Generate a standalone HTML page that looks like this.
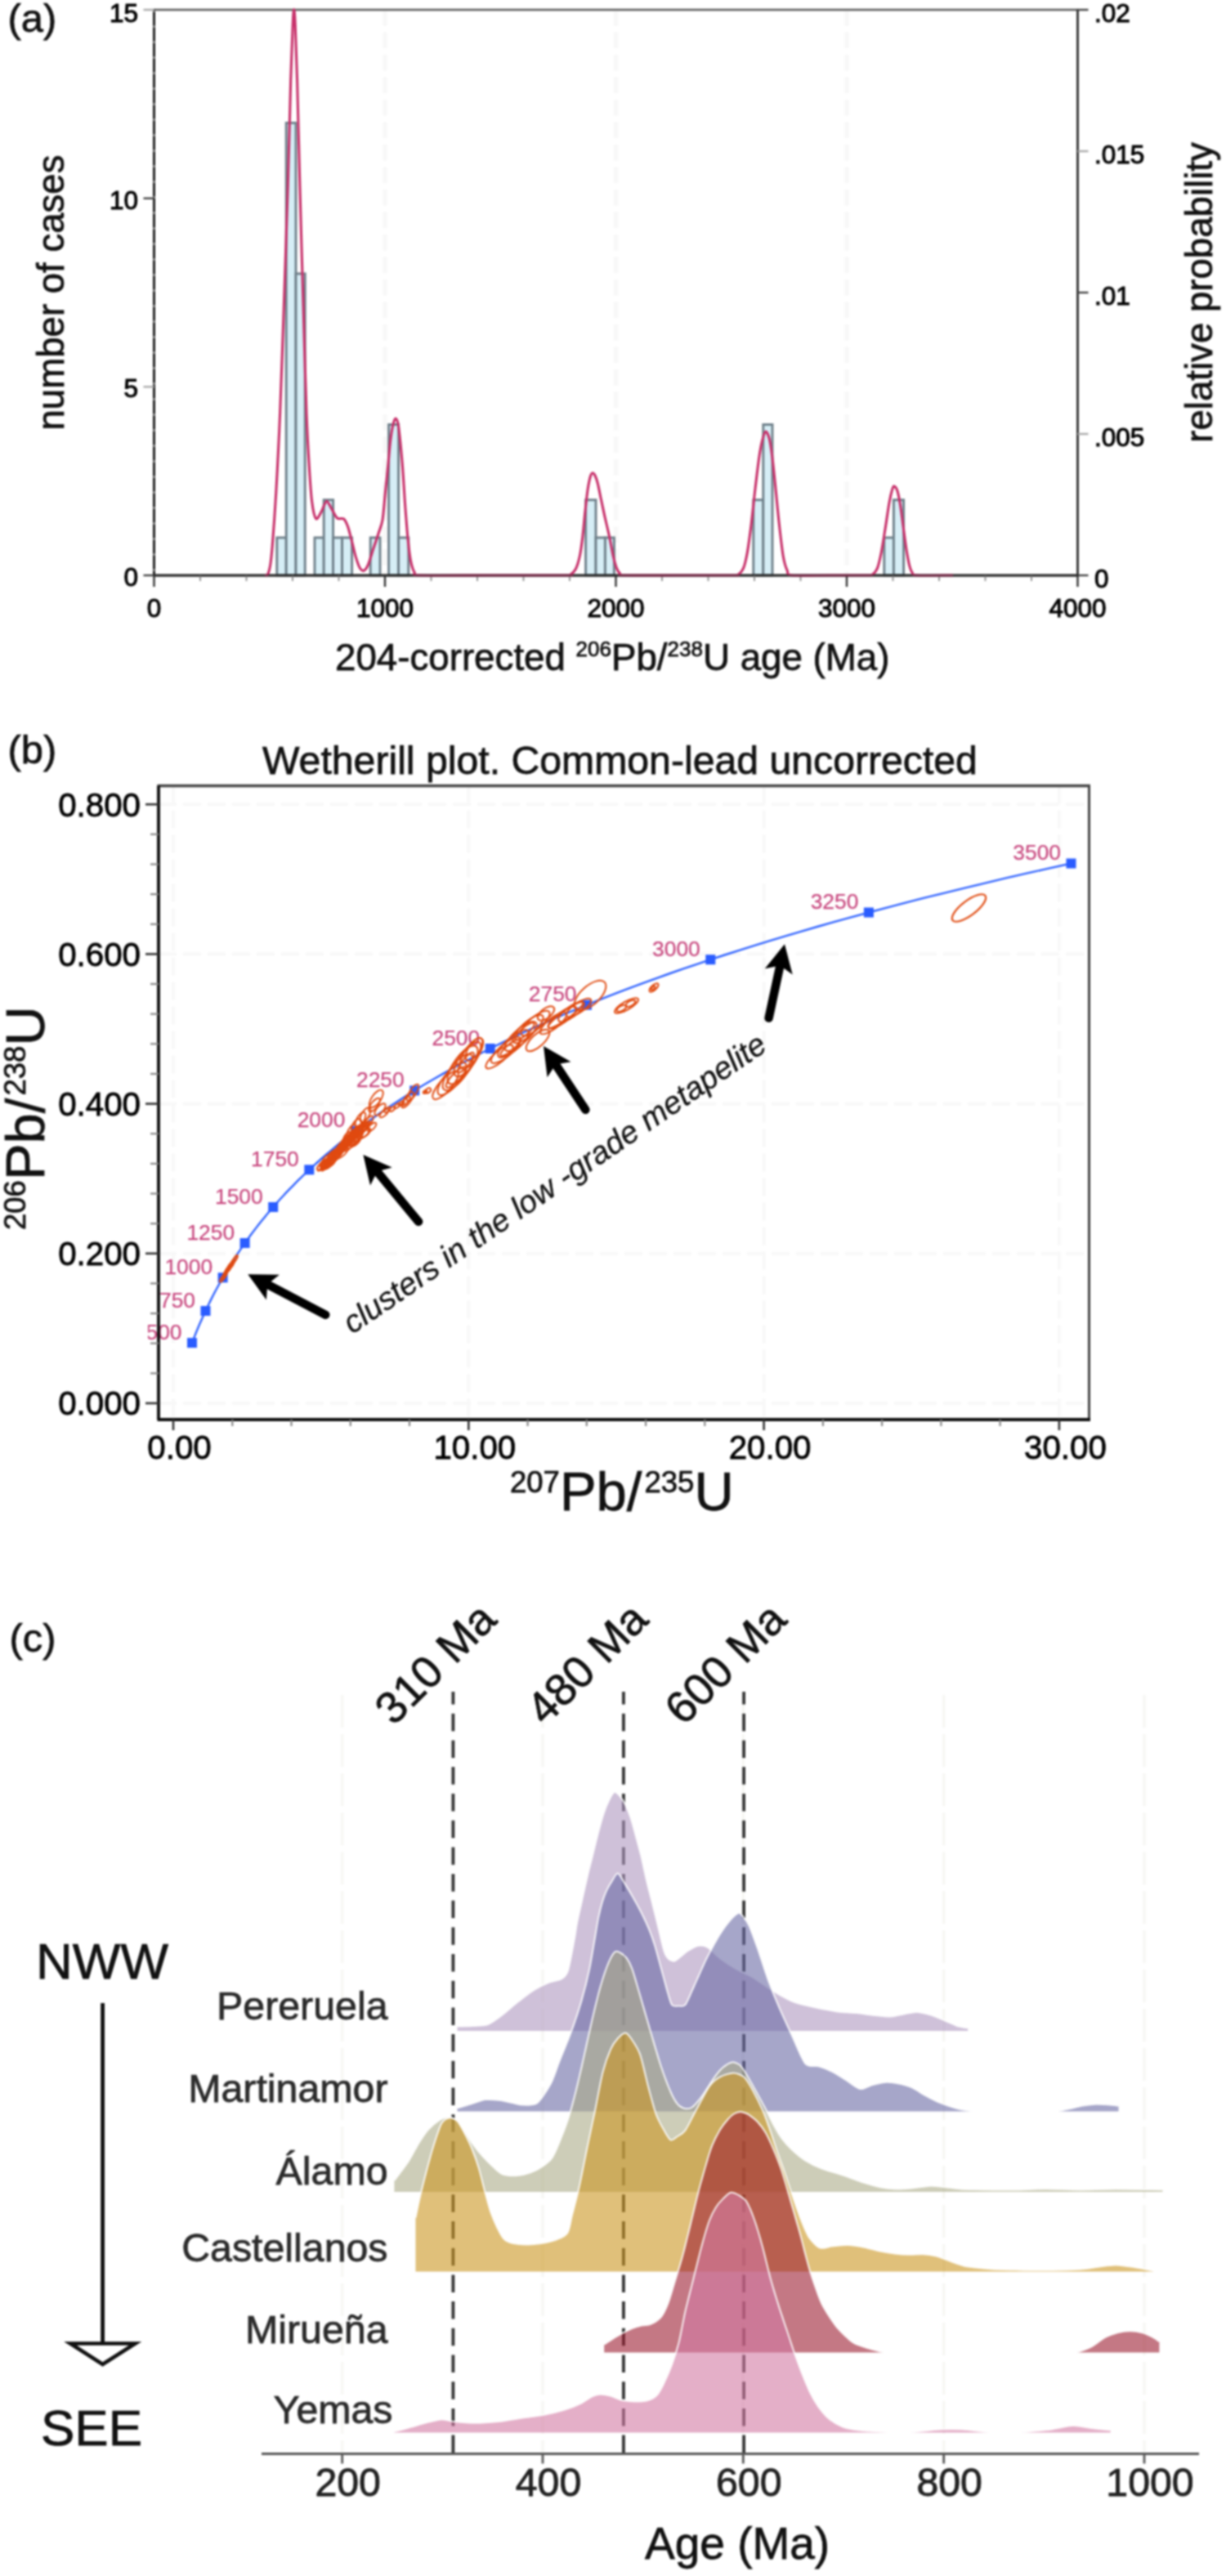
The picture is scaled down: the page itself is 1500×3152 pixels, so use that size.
<!DOCTYPE html>
<html><head><meta charset="utf-8"><title>Figure</title>
<style>
html,body{margin:0;padding:0;background:#fff;}
body{width:1500px;height:3152px;overflow:hidden;font-family:"Liberation Sans", sans-serif;}
svg{display:block;filter:blur(0.9px);}
text{font-family:"Liberation Sans", sans-serif;stroke:#111;stroke-width:0.75px;}
text.tk{stroke:#000;stroke-width:1.05px;}
text.tk2{stroke:#000;stroke-width:0.8px;}
text.pk{stroke:#c8487f;stroke-width:0.25px;}
text.gy{stroke:#2a2a2a;}
</style></head><body>
<svg width="1500" height="3152" viewBox="0 0 1500 3152">
<rect width="1500" height="3152" fill="#fff"/>
<g id="panelA">
<text x="9.5" y="38.5" font-size="48.8" fill="#111">(a)</text>
<line x1="471.0" y1="12.0" x2="471.0" y2="704.0" stroke="#f8f8f8" stroke-width="5.5" stroke-dasharray="19.5 8"/>
<line x1="753.5" y1="12.0" x2="753.5" y2="704.0" stroke="#f8f8f8" stroke-width="5.5" stroke-dasharray="19.5 8"/>
<line x1="1036.0" y1="12.0" x2="1036.0" y2="704.0" stroke="#f8f8f8" stroke-width="5.5" stroke-dasharray="19.5 8"/>
<rect x="338.8" y="657.9" width="11.4" height="46.1" fill="#d6eef6" stroke="#6f808a" stroke-width="2.9"/>
<rect x="350.2" y="150.4" width="11.8" height="553.6" fill="#d6eef6" stroke="#6f808a" stroke-width="2.9"/>
<rect x="362.0" y="334.9" width="11.2" height="369.1" fill="#d6eef6" stroke="#6f808a" stroke-width="2.9"/>
<rect x="385.0" y="657.9" width="11.2" height="46.1" fill="#d6eef6" stroke="#6f808a" stroke-width="2.9"/>
<rect x="396.2" y="611.7" width="11.4" height="92.3" fill="#d6eef6" stroke="#6f808a" stroke-width="2.9"/>
<rect x="407.6" y="657.9" width="11.0" height="46.1" fill="#d6eef6" stroke="#6f808a" stroke-width="2.9"/>
<rect x="418.6" y="657.9" width="12.0" height="46.1" fill="#d6eef6" stroke="#6f808a" stroke-width="2.9"/>
<rect x="453.2" y="657.9" width="11.8" height="46.1" fill="#d6eef6" stroke="#6f808a" stroke-width="2.9"/>
<rect x="475.6" y="519.5" width="12.0" height="184.5" fill="#d6eef6" stroke="#6f808a" stroke-width="2.9"/>
<rect x="487.6" y="657.9" width="12.2" height="46.1" fill="#d6eef6" stroke="#6f808a" stroke-width="2.9"/>
<rect x="716.6" y="611.7" width="12.4" height="92.3" fill="#d6eef6" stroke="#6f808a" stroke-width="2.9"/>
<rect x="729.0" y="657.9" width="11.4" height="46.1" fill="#d6eef6" stroke="#6f808a" stroke-width="2.9"/>
<rect x="740.4" y="657.9" width="11.0" height="46.1" fill="#d6eef6" stroke="#6f808a" stroke-width="2.9"/>
<rect x="921.8" y="611.7" width="12.0" height="92.3" fill="#d6eef6" stroke="#6f808a" stroke-width="2.9"/>
<rect x="933.8" y="519.5" width="11.2" height="184.5" fill="#d6eef6" stroke="#6f808a" stroke-width="2.9"/>
<rect x="1081.8" y="657.9" width="11.6" height="46.1" fill="#d6eef6" stroke="#6f808a" stroke-width="2.9"/>
<rect x="1093.4" y="611.7" width="12.2" height="92.3" fill="#d6eef6" stroke="#6f808a" stroke-width="2.9"/>
<line x1="187.5" y1="12.0" x2="1319.5" y2="12.0" stroke="#5a5a5a" stroke-width="2.6"/>
<line x1="188.5" y1="11.0" x2="188.5" y2="705.0" stroke="#222" stroke-width="3"/>
<line x1="188.5" y1="12.0" x2="188.5" y2="704.0" stroke="#fff" stroke-opacity="0.35" stroke-width="3" stroke-dasharray="3 16"/>
<line x1="1318.5" y1="11.0" x2="1318.5" y2="705.0" stroke="#3c3c3c" stroke-width="3"/>
<line x1="187.5" y1="704.0" x2="1319.5" y2="704.0" stroke="#2a2a2a" stroke-width="3"/>
<line x1="175.5" y1="12.0" x2="188.5" y2="12.0" stroke="#aaa" stroke-width="2.4"/>
<text x="169" y="26.8" font-size="31.5" text-anchor="end" fill="#000" class="tk">15</text>
<line x1="175.5" y1="242.7" x2="188.5" y2="242.7" stroke="#444" stroke-width="2.4"/>
<text x="169" y="255.5" font-size="31.5" text-anchor="end" fill="#000" class="tk">10</text>
<line x1="175.5" y1="473.3" x2="188.5" y2="473.3" stroke="#aaa" stroke-width="2.4"/>
<text x="169" y="486.1" font-size="31.5" text-anchor="end" fill="#000" class="tk">5</text>
<line x1="175.5" y1="704.0" x2="188.5" y2="704.0" stroke="#444" stroke-width="2.4"/>
<text x="169" y="716.8" font-size="31.5" text-anchor="end" fill="#000" class="tk">0</text>
<line x1="1318.5" y1="12.0" x2="1331.5" y2="12.0" stroke="#444" stroke-width="2.4"/>
<text x="1339" y="27.3" font-size="31.5" fill="#000" class="tk">.02</text>
<line x1="1318.5" y1="185.0" x2="1331.5" y2="185.0" stroke="#aaa" stroke-width="2.4"/>
<text x="1339" y="200.3" font-size="31.5" fill="#000" class="tk">.015</text>
<line x1="1318.5" y1="358.0" x2="1331.5" y2="358.0" stroke="#444" stroke-width="2.4"/>
<text x="1339" y="373.3" font-size="31.5" fill="#000" class="tk">.01</text>
<line x1="1318.5" y1="531.0" x2="1331.5" y2="531.0" stroke="#aaa" stroke-width="2.4"/>
<text x="1339" y="546.3" font-size="31.5" fill="#000" class="tk">.005</text>
<line x1="1318.5" y1="704.0" x2="1331.5" y2="704.0" stroke="#444" stroke-width="2.4"/>
<text x="1339" y="719.3" font-size="31.5" fill="#000" class="tk">0</text>
<line x1="188.5" y1="704.0" x2="188.5" y2="718.0" stroke="#333" stroke-width="2.4"/>
<text x="188.5" y="755" font-size="31.5" text-anchor="middle" fill="#000" class="tk">0</text>
<line x1="245.0" y1="704.0" x2="245.0" y2="711.0" stroke="#999" stroke-width="2"/>
<line x1="301.5" y1="704.0" x2="301.5" y2="711.0" stroke="#999" stroke-width="2"/>
<line x1="358.0" y1="704.0" x2="358.0" y2="711.0" stroke="#999" stroke-width="2"/>
<line x1="414.5" y1="704.0" x2="414.5" y2="711.0" stroke="#999" stroke-width="2"/>
<line x1="471.0" y1="704.0" x2="471.0" y2="718.0" stroke="#333" stroke-width="2.4"/>
<text x="471.0" y="755" font-size="31.5" text-anchor="middle" fill="#000" class="tk">1000</text>
<line x1="527.5" y1="704.0" x2="527.5" y2="711.0" stroke="#999" stroke-width="2"/>
<line x1="584.0" y1="704.0" x2="584.0" y2="711.0" stroke="#999" stroke-width="2"/>
<line x1="640.5" y1="704.0" x2="640.5" y2="711.0" stroke="#999" stroke-width="2"/>
<line x1="697.0" y1="704.0" x2="697.0" y2="711.0" stroke="#999" stroke-width="2"/>
<line x1="753.5" y1="704.0" x2="753.5" y2="718.0" stroke="#333" stroke-width="2.4"/>
<text x="753.5" y="755" font-size="31.5" text-anchor="middle" fill="#000" class="tk">2000</text>
<line x1="810.0" y1="704.0" x2="810.0" y2="711.0" stroke="#999" stroke-width="2"/>
<line x1="866.5" y1="704.0" x2="866.5" y2="711.0" stroke="#999" stroke-width="2"/>
<line x1="923.0" y1="704.0" x2="923.0" y2="711.0" stroke="#999" stroke-width="2"/>
<line x1="979.5" y1="704.0" x2="979.5" y2="711.0" stroke="#999" stroke-width="2"/>
<line x1="1036.0" y1="704.0" x2="1036.0" y2="718.0" stroke="#333" stroke-width="2.4"/>
<text x="1036.0" y="755" font-size="31.5" text-anchor="middle" fill="#000" class="tk">3000</text>
<line x1="1092.5" y1="704.0" x2="1092.5" y2="711.0" stroke="#999" stroke-width="2"/>
<line x1="1149.0" y1="704.0" x2="1149.0" y2="711.0" stroke="#999" stroke-width="2"/>
<line x1="1205.5" y1="704.0" x2="1205.5" y2="711.0" stroke="#999" stroke-width="2"/>
<line x1="1262.0" y1="704.0" x2="1262.0" y2="711.0" stroke="#999" stroke-width="2"/>
<line x1="1318.5" y1="704.0" x2="1318.5" y2="718.0" stroke="#333" stroke-width="2.4"/>
<text x="1318.5" y="755" font-size="31.5" text-anchor="middle" fill="#000" class="tk">4000</text>
<path d="M324.0 704.3 C324.5 704.1 326.5 704.8 327.5 703.0 C328.5 701.2 329.7 697.2 330.6 692.0 C331.5 686.8 332.1 681.3 333.2 668.0 C334.3 654.7 336.3 627.9 337.7 603.6 C339.1 579.3 341.2 540.0 342.6 505.7 C344.0 471.4 345.9 416.8 347.3 375.2 C348.7 333.6 350.9 270.0 352.2 228.4 C353.5 186.8 354.8 127.7 355.7 97.9 C356.6 68.1 357.6 43.0 358.2 30.0 C358.8 17.0 359.2 11.5 359.7 11.5 C360.1 11.5 360.6 17.0 361.2 30.0 C361.8 43.0 362.7 68.1 363.6 97.9 C364.5 127.7 365.8 186.8 366.9 228.4 C368.0 270.0 369.9 333.6 371.1 375.2 C372.3 416.8 373.9 476.3 375.0 505.7 C376.1 535.1 377.3 554.8 378.3 571.0 C379.3 587.2 380.4 603.9 381.6 613.4 C382.8 622.9 384.8 632.6 386.5 634.6 C388.2 636.6 391.1 629.6 393.0 626.4 C394.9 623.2 397.6 613.9 399.5 613.4 C401.4 612.9 404.0 620.1 406.0 623.2 C408.0 626.3 410.4 632.2 412.6 634.0 C414.8 635.8 418.8 633.4 420.7 635.0 C422.6 636.6 424.1 640.3 425.6 644.4 C427.1 648.5 429.0 656.7 430.5 662.3 C432.0 667.9 433.9 677.0 435.4 681.9 C436.9 686.8 438.8 692.6 440.3 695.0 C441.8 697.4 443.7 698.7 445.2 698.2 C446.7 697.7 448.4 695.6 450.1 691.7 C451.8 687.8 454.7 678.0 456.6 672.1 C458.6 666.2 461.4 657.9 463.1 652.5 C464.8 647.1 466.8 643.5 468.0 636.2 C469.2 628.9 470.3 613.4 471.3 603.6 C472.3 593.8 473.6 580.8 474.6 571.0 C475.6 561.2 476.8 546.1 477.8 538.3 C478.8 530.5 480.1 522.7 481.1 518.8 C482.1 514.9 483.3 511.7 484.3 512.2 C485.3 512.7 486.4 513.2 487.6 522.0 C488.8 530.8 491.3 556.3 492.5 571.0 C493.7 585.7 494.8 606.7 495.8 619.9 C496.8 633.1 498.0 649.2 499.0 659.0 C500.0 668.8 501.1 679.0 502.3 685.2 C503.5 691.4 505.4 697.7 507.2 700.5 C509.0 703.3 500.1 703.5 514.0 704.0 C527.9 704.5 573.3 704.0 600.0 704.0 C626.7 704.0 677.3 704.1 692.0 704.0 C706.7 703.9 696.1 704.2 698.0 703.0 C699.9 701.8 702.8 699.5 704.5 696.0 C706.2 692.5 708.2 685.6 709.4 680.0 C710.6 674.4 711.6 666.8 712.6 658.7 C713.6 650.6 714.9 635.1 715.9 626.0 C716.9 616.9 718.2 604.8 719.2 598.3 C720.2 591.8 721.5 585.7 722.4 582.8 C723.3 579.9 724.0 578.8 724.9 578.7 C725.8 578.6 727.1 580.0 728.1 582.0 C729.1 584.0 730.3 587.4 731.4 591.8 C732.5 596.2 734.1 605.0 735.5 611.4 C736.9 617.8 738.9 627.6 740.4 634.2 C741.9 640.8 743.8 648.5 745.3 655.4 C746.8 662.3 748.8 674.0 750.1 679.9 C751.4 685.8 753.0 691.4 754.2 694.6 C755.4 697.8 756.8 700.1 758.3 701.5 C759.8 702.9 753.2 703.6 764.0 704.0 C774.8 704.4 810.0 704.0 830.0 704.0 C850.0 704.0 886.0 704.1 897.0 704.0 C908.0 703.9 901.3 704.2 903.2 703.0 C905.1 701.8 907.7 699.7 909.4 695.7 C911.1 691.7 912.8 684.3 914.3 676.2 C915.8 668.1 917.6 653.6 919.1 641.9 C920.6 630.2 922.5 610.4 924.0 597.9 C925.5 585.4 927.6 567.5 928.9 558.7 C930.2 549.9 931.4 543.7 932.6 539.1 C933.8 534.5 935.5 528.5 936.8 528.1 C938.1 527.7 940.0 532.1 941.2 536.7 C942.4 541.3 943.7 550.3 944.8 558.7 C945.9 567.1 947.2 580.5 948.5 593.0 C949.8 605.5 951.9 628.7 953.4 641.9 C954.9 655.1 956.8 672.6 958.3 681.0 C959.8 689.4 961.6 694.8 963.2 698.2 C964.8 701.7 961.2 703.1 969.0 704.0 C976.8 704.9 1001.2 704.0 1015.0 704.0 C1028.8 704.0 1053.2 704.1 1061.0 704.0 C1068.8 703.9 1065.4 704.5 1067.2 703.3 C1069.0 702.1 1071.6 699.8 1073.3 695.7 C1075.0 691.6 1076.7 683.5 1078.2 676.2 C1079.7 668.9 1081.6 656.0 1083.1 646.8 C1084.6 637.6 1086.7 622.2 1088.0 615.0 C1089.3 607.8 1090.7 602.1 1091.6 599.1 C1092.5 596.1 1093.2 594.7 1094.1 594.9 C1095.0 595.1 1096.7 596.9 1097.8 600.3 C1098.9 603.7 1100.3 610.8 1101.4 617.4 C1102.5 624.0 1104.0 636.3 1105.1 644.4 C1106.2 652.5 1107.7 664.3 1108.8 671.3 C1109.9 678.3 1111.3 686.4 1112.4 690.8 C1113.5 695.2 1114.7 698.6 1116.1 700.6 C1117.5 702.6 1114.5 703.5 1122.0 704.0 C1129.5 704.5 1159.4 704.0 1166.0 704.0" fill="none" stroke="#c7306a" stroke-width="3.1" stroke-linejoin="round"/>
<line x1="187.5" y1="704.3" x2="1319.5" y2="704.3" stroke="#2a2a2a" stroke-opacity="0.55" stroke-width="3"/>
<text transform="translate(77.5 358) rotate(-90)" font-size="45.6" text-anchor="middle" fill="#111">number of cases</text>
<text transform="translate(1483 358) rotate(-90)" font-size="45.6" text-anchor="middle" fill="#111">relative probability</text>
<text x="410" y="820" font-size="45.7" fill="#111">204-corrected <tspan font-size="26" dy="-17">206</tspan><tspan dy="17">Pb/</tspan><tspan font-size="26" dy="-17">238</tspan><tspan dy="17">U age (Ma)</tspan></text>
</g>
<g id="panelB">
<text x="9.5" y="933.5" font-size="48.8" fill="#111">(b)</text>
<text x="321" y="946.5" font-size="48.2" fill="#111">Wetherill plot. Common-lead uncorrected</text>
<clipPath id="clipB"><rect x="194.0" y="961.5" width="1138.5" height="775.5"/></clipPath>
<line x1="212.0" y1="961.5" x2="212.0" y2="1737.0" stroke="#f8f8f8" stroke-width="3.8" stroke-dasharray="22 8"/>
<line x1="573.3" y1="961.5" x2="573.3" y2="1737.0" stroke="#f8f8f8" stroke-width="3.8" stroke-dasharray="22 8"/>
<line x1="934.6" y1="961.5" x2="934.6" y2="1737.0" stroke="#f8f8f8" stroke-width="3.8" stroke-dasharray="22 8"/>
<line x1="1295.9" y1="961.5" x2="1295.9" y2="1737.0" stroke="#f8f8f8" stroke-width="3.8" stroke-dasharray="22 8"/>
<line x1="194.0" y1="1717.0" x2="1332.5" y2="1717.0" stroke="#f8f8f8" stroke-width="3.8" stroke-dasharray="22 8"/>
<line x1="194.0" y1="1533.8" x2="1332.5" y2="1533.8" stroke="#f8f8f8" stroke-width="3.8" stroke-dasharray="22 8"/>
<line x1="194.0" y1="1350.6" x2="1332.5" y2="1350.6" stroke="#f8f8f8" stroke-width="3.8" stroke-dasharray="22 8"/>
<line x1="194.0" y1="1167.4" x2="1332.5" y2="1167.4" stroke="#f8f8f8" stroke-width="3.8" stroke-dasharray="22 8"/>
<line x1="194.0" y1="984.2" x2="1332.5" y2="984.2" stroke="#f8f8f8" stroke-width="3.8" stroke-dasharray="22 8"/>
<clipPath id="clipB2"><rect x="181" y="961.5" width="1151.5" height="775.5"/></clipPath>
<g clip-path="url(#clipB)">
<polyline points="235.0,1643.1 236.5,1639.3 238.0,1635.4 239.5,1631.5 241.1,1627.6 242.7,1623.7 244.4,1619.8 246.1,1615.9 247.9,1611.9 249.7,1608.0 251.5,1604.0 253.4,1600.0 255.3,1596.0 257.3,1591.9 259.3,1587.9 261.4,1583.8 263.5,1579.8 265.7,1575.7 268.0,1571.6 270.3,1567.4 272.6,1563.3 275.0,1559.1 277.5,1555.0 280.0,1550.8 282.6,1546.6 285.3,1542.3 288.0,1538.1 290.8,1533.9 293.7,1529.6 296.6,1525.3 299.6,1521.0 302.7,1516.7 305.9,1512.3 309.1,1508.0 312.4,1503.6 315.8,1499.2 319.3,1494.8 322.9,1490.4 326.5,1486.0 330.3,1481.5 334.2,1477.0 338.1,1472.5 342.1,1468.0 346.3,1463.5 350.5,1458.9 354.9,1454.4 359.4,1449.8 363.9,1445.2 368.6,1440.6 373.4,1436.0 378.3,1431.3 383.4,1426.6 388.6,1422.0 393.9,1417.2 399.3,1412.5 404.9,1407.8 410.6,1403.0 416.4,1398.2 422.4,1393.4 428.6,1388.6 434.9,1383.8 441.3,1378.9 447.9,1374.1 454.7,1369.2 461.7,1364.3 468.8,1359.3 476.1,1354.4 483.6,1349.4 491.3,1344.4 499.1,1339.4 507.2,1334.4 515.4,1329.3 523.9,1324.3 532.6,1319.2 541.5,1314.1 550.6,1309.0 559.9,1303.8 569.5,1298.7 579.3,1293.5 589.4,1288.3 599.7,1283.0 610.2,1277.8 621.1,1272.5 632.2,1267.2 643.5,1261.9 655.2,1256.6 667.1,1251.3 679.4,1245.9 691.9,1240.5 704.8,1235.1 718.0,1229.7 731.5,1224.2 745.3,1218.7 759.5,1213.2 774.1,1207.7 789.0,1202.2 804.3,1196.6 819.9,1191.0 836.0,1185.4 852.5,1179.8 869.3,1174.2 886.6,1168.5 904.3,1162.8 922.5,1157.1 941.1,1151.4 960.2,1145.6 979.7,1139.8 999.7,1134.0 1020.3,1128.2 1041.3,1122.4 1062.9,1116.5 1085.0,1110.6 1107.7,1104.7 1130.9,1098.7 1154.7,1092.8 1179.1,1086.8 1204.1,1080.8 1229.8,1074.7 1256.0,1068.7 1282.9,1062.6 1310.5,1056.5" fill="none" stroke="#2f62ff" stroke-width="2.4"/>
</g><g clip-path="url(#clipB2)">
<text x="222.5" y="1638.6" font-size="26.4" text-anchor="end" fill="#c8487f" class="pk">500</text>
<text x="239.0" y="1599.5" font-size="26.4" text-anchor="end" fill="#c8487f" class="pk">750</text>
<text x="260.1" y="1558.8" font-size="26.4" text-anchor="end" fill="#c8487f" class="pk">1000</text>
<text x="287.1" y="1516.5" font-size="26.4" text-anchor="end" fill="#c8487f" class="pk">1250</text>
<text x="321.7" y="1472.5" font-size="26.4" text-anchor="end" fill="#c8487f" class="pk">1500</text>
<text x="365.8" y="1426.8" font-size="26.4" text-anchor="end" fill="#c8487f" class="pk">1750</text>
<text x="422.4" y="1379.3" font-size="26.4" text-anchor="end" fill="#c8487f" class="pk">2000</text>
<text x="494.7" y="1329.9" font-size="26.4" text-anchor="end" fill="#c8487f" class="pk">2250</text>
<text x="587.2" y="1278.5" font-size="26.4" text-anchor="end" fill="#c8487f" class="pk">2500</text>
<text x="705.5" y="1225.2" font-size="26.4" text-anchor="end" fill="#c8487f" class="pk">2750</text>
<text x="856.8" y="1169.7" font-size="26.4" text-anchor="end" fill="#c8487f" class="pk">3000</text>
<text x="1050.4" y="1112.0" font-size="26.4" text-anchor="end" fill="#c8487f" class="pk">3250</text>
<text x="1298.0" y="1052.0" font-size="26.4" text-anchor="end" fill="#c8487f" class="pk">3500</text>
</g><g clip-path="url(#clipB)">
<rect x="229.0" y="1637.1" width="12" height="12" fill="#2a5cff"/>
<rect x="245.5" y="1598.0" width="12" height="12" fill="#2a5cff"/>
<rect x="266.6" y="1557.3" width="12" height="12" fill="#2a5cff"/>
<rect x="293.6" y="1515.0" width="12" height="12" fill="#2a5cff"/>
<rect x="328.2" y="1471.0" width="12" height="12" fill="#2a5cff"/>
<rect x="372.3" y="1425.3" width="12" height="12" fill="#2a5cff"/>
<rect x="428.9" y="1377.8" width="12" height="12" fill="#2a5cff"/>
<rect x="501.2" y="1328.4" width="12" height="12" fill="#2a5cff"/>
<rect x="593.7" y="1277.0" width="12" height="12" fill="#2a5cff"/>
<rect x="712.0" y="1223.7" width="12" height="12" fill="#2a5cff"/>
<rect x="863.3" y="1168.2" width="12" height="12" fill="#2a5cff"/>
<rect x="1056.9" y="1110.5" width="12" height="12" fill="#2a5cff"/>
<rect x="1304.5" y="1050.5" width="12" height="12" fill="#2a5cff"/>
<ellipse cx="271.7" cy="1564.9" rx="4.5" ry="1.7" transform="rotate(-58 271.7 1564.9)" fill="none" stroke="#e04a10" stroke-width="1.8" stroke-opacity="1"/>
<ellipse cx="273.7" cy="1562.5" rx="4.5" ry="1.7" transform="rotate(-58 273.7 1562.5)" fill="none" stroke="#e04a10" stroke-width="1.8" stroke-opacity="1"/>
<ellipse cx="274.9" cy="1560.6" rx="4.5" ry="1.7" transform="rotate(-58 274.9 1560.6)" fill="none" stroke="#e04a10" stroke-width="1.8" stroke-opacity="1"/>
<ellipse cx="275.5" cy="1558.6" rx="4.5" ry="1.7" transform="rotate(-58 275.5 1558.6)" fill="none" stroke="#e04a10" stroke-width="1.8" stroke-opacity="1"/>
<ellipse cx="276.9" cy="1556.1" rx="4.5" ry="1.7" transform="rotate(-58 276.9 1556.1)" fill="none" stroke="#e04a10" stroke-width="1.8" stroke-opacity="1"/>
<ellipse cx="278.4" cy="1553.3" rx="4.5" ry="1.7" transform="rotate(-58 278.4 1553.3)" fill="none" stroke="#e04a10" stroke-width="1.8" stroke-opacity="1"/>
<ellipse cx="280.3" cy="1552.1" rx="4.5" ry="1.7" transform="rotate(-58 280.3 1552.1)" fill="none" stroke="#e04a10" stroke-width="1.8" stroke-opacity="1"/>
<ellipse cx="281.3" cy="1548.8" rx="4.5" ry="1.7" transform="rotate(-58 281.3 1548.8)" fill="none" stroke="#e04a10" stroke-width="1.8" stroke-opacity="1"/>
<ellipse cx="283.5" cy="1547.7" rx="4.5" ry="1.7" transform="rotate(-58 283.5 1547.7)" fill="none" stroke="#e04a10" stroke-width="1.8" stroke-opacity="1"/>
<ellipse cx="284.8" cy="1544.5" rx="4.5" ry="1.7" transform="rotate(-58 284.8 1544.5)" fill="none" stroke="#e04a10" stroke-width="1.8" stroke-opacity="1"/>
<ellipse cx="286.9" cy="1541.6" rx="4.5" ry="1.7" transform="rotate(-58 286.9 1541.6)" fill="none" stroke="#e04a10" stroke-width="1.8" stroke-opacity="1"/>
<ellipse cx="288.1" cy="1539.7" rx="4.5" ry="1.7" transform="rotate(-58 288.1 1539.7)" fill="none" stroke="#e04a10" stroke-width="1.8" stroke-opacity="1"/>
<ellipse cx="393.4" cy="1426.3" rx="7.0" ry="2.8" transform="rotate(-43 393.4 1426.3)" fill="none" stroke="#e04a10" stroke-width="1.7" stroke-opacity="1"/>
<ellipse cx="394.5" cy="1425.6" rx="8.8" ry="3.4" transform="rotate(-49 394.5 1425.6)" fill="none" stroke="#e04a10" stroke-width="1.7" stroke-opacity="1"/>
<ellipse cx="397.0" cy="1426.5" rx="6.8" ry="2.4" transform="rotate(-51 397.0 1426.5)" fill="none" stroke="#e04a10" stroke-width="1.7" stroke-opacity="1"/>
<ellipse cx="398.6" cy="1426.3" rx="8.2" ry="2.8" transform="rotate(-46 398.6 1426.3)" fill="none" stroke="#e04a10" stroke-width="1.7" stroke-opacity="1"/>
<ellipse cx="398.4" cy="1424.3" rx="7.7" ry="3.6" transform="rotate(-44 398.4 1424.3)" fill="none" stroke="#e04a10" stroke-width="1.7" stroke-opacity="1"/>
<ellipse cx="398.3" cy="1422.4" rx="8.8" ry="3.2" transform="rotate(-42 398.3 1422.4)" fill="none" stroke="#e04a10" stroke-width="1.7" stroke-opacity="1"/>
<ellipse cx="401.6" cy="1424.0" rx="7.7" ry="4.0" transform="rotate(-52 401.6 1424.0)" fill="none" stroke="#e04a10" stroke-width="1.7" stroke-opacity="1"/>
<ellipse cx="401.0" cy="1421.6" rx="9.5" ry="2.5" transform="rotate(-47 401.0 1421.6)" fill="none" stroke="#e04a10" stroke-width="1.7" stroke-opacity="1"/>
<ellipse cx="400.0" cy="1418.7" rx="9.2" ry="3.6" transform="rotate(-46 400.0 1418.7)" fill="none" stroke="#e04a10" stroke-width="1.7" stroke-opacity="1"/>
<ellipse cx="405.1" cy="1422.3" rx="7.8" ry="3.5" transform="rotate(-46 405.1 1422.3)" fill="none" stroke="#e04a10" stroke-width="1.7" stroke-opacity="1"/>
<ellipse cx="404.5" cy="1419.8" rx="8.3" ry="3.7" transform="rotate(-41 404.5 1419.8)" fill="none" stroke="#e04a10" stroke-width="1.7" stroke-opacity="1"/>
<ellipse cx="404.9" cy="1418.4" rx="9.2" ry="2.4" transform="rotate(-44 404.9 1418.4)" fill="none" stroke="#e04a10" stroke-width="1.7" stroke-opacity="1"/>
<ellipse cx="406.7" cy="1418.5" rx="10.5" ry="3.7" transform="rotate(-50 406.7 1418.5)" fill="none" stroke="#e04a10" stroke-width="1.7" stroke-opacity="1"/>
<ellipse cx="406.3" cy="1416.2" rx="9.2" ry="2.3" transform="rotate(-48 406.3 1416.2)" fill="none" stroke="#e04a10" stroke-width="1.7" stroke-opacity="1"/>
<ellipse cx="406.0" cy="1414.1" rx="7.0" ry="2.4" transform="rotate(-43 406.0 1414.1)" fill="none" stroke="#e04a10" stroke-width="1.7" stroke-opacity="1"/>
<ellipse cx="406.7" cy="1413.0" rx="7.5" ry="2.9" transform="rotate(-42 406.7 1413.0)" fill="none" stroke="#e04a10" stroke-width="1.7" stroke-opacity="1"/>
<ellipse cx="407.4" cy="1411.8" rx="8.3" ry="3.2" transform="rotate(-42 407.4 1411.8)" fill="none" stroke="#e04a10" stroke-width="1.7" stroke-opacity="1"/>
<ellipse cx="412.2" cy="1415.2" rx="10.0" ry="2.7" transform="rotate(-48 412.2 1415.2)" fill="none" stroke="#e04a10" stroke-width="1.7" stroke-opacity="1"/>
<ellipse cx="410.7" cy="1411.7" rx="10.0" ry="3.9" transform="rotate(-52 410.7 1411.7)" fill="none" stroke="#e04a10" stroke-width="1.7" stroke-opacity="1"/>
<ellipse cx="410.6" cy="1409.8" rx="7.4" ry="2.7" transform="rotate(-47 410.6 1409.8)" fill="none" stroke="#e04a10" stroke-width="1.7" stroke-opacity="1"/>
<ellipse cx="413.7" cy="1411.3" rx="7.6" ry="2.3" transform="rotate(-48 413.7 1411.3)" fill="none" stroke="#e04a10" stroke-width="1.7" stroke-opacity="1"/>
<ellipse cx="413.4" cy="1409.2" rx="8.8" ry="3.9" transform="rotate(-44 413.4 1409.2)" fill="none" stroke="#e04a10" stroke-width="1.7" stroke-opacity="1"/>
<ellipse cx="415.2" cy="1409.2" rx="9.0" ry="3.4" transform="rotate(-53 415.2 1409.2)" fill="none" stroke="#e04a10" stroke-width="1.7" stroke-opacity="1"/>
<ellipse cx="418.3" cy="1410.7" rx="9.6" ry="3.8" transform="rotate(-43 418.3 1410.7)" fill="none" stroke="#e04a10" stroke-width="1.7" stroke-opacity="1"/>
<ellipse cx="416.3" cy="1406.7" rx="8.1" ry="2.4" transform="rotate(-45 416.3 1406.7)" fill="none" stroke="#e04a10" stroke-width="1.7" stroke-opacity="1"/>
<ellipse cx="415.3" cy="1403.8" rx="6.8" ry="2.6" transform="rotate(-52 415.3 1403.8)" fill="none" stroke="#e04a10" stroke-width="1.7" stroke-opacity="1"/>
<ellipse cx="417.8" cy="1404.6" rx="6.7" ry="2.3" transform="rotate(-52 417.8 1404.6)" fill="none" stroke="#e04a10" stroke-width="1.7" stroke-opacity="1"/>
<ellipse cx="417.3" cy="1402.3" rx="8.0" ry="2.3" transform="rotate(-42 417.3 1402.3)" fill="none" stroke="#e04a10" stroke-width="1.7" stroke-opacity="1"/>
<ellipse cx="421.2" cy="1404.7" rx="7.1" ry="2.7" transform="rotate(-49 421.2 1404.7)" fill="none" stroke="#e04a10" stroke-width="1.7" stroke-opacity="1"/>
<ellipse cx="420.6" cy="1402.2" rx="7.0" ry="3.7" transform="rotate(-40 420.6 1402.2)" fill="none" stroke="#e04a10" stroke-width="1.7" stroke-opacity="1"/>
<ellipse cx="422.2" cy="1402.0" rx="8.4" ry="2.4" transform="rotate(-53 422.2 1402.0)" fill="none" stroke="#e04a10" stroke-width="1.7" stroke-opacity="1"/>
<ellipse cx="422.3" cy="1400.3" rx="7.6" ry="3.7" transform="rotate(-52 422.3 1400.3)" fill="none" stroke="#e04a10" stroke-width="1.7" stroke-opacity="1"/>
<ellipse cx="421.3" cy="1397.3" rx="10.3" ry="3.2" transform="rotate(-52 421.3 1397.3)" fill="none" stroke="#e04a10" stroke-width="1.7" stroke-opacity="1"/>
<ellipse cx="425.4" cy="1399.9" rx="6.6" ry="3.2" transform="rotate(-40 425.4 1399.9)" fill="none" stroke="#e04a10" stroke-width="1.7" stroke-opacity="1"/>
<ellipse cx="428.3" cy="1401.2" rx="9.3" ry="2.7" transform="rotate(-49 428.3 1401.2)" fill="none" stroke="#e04a10" stroke-width="1.7" stroke-opacity="1"/>
<ellipse cx="424.8" cy="1395.7" rx="9.6" ry="3.2" transform="rotate(-43 424.8 1395.7)" fill="none" stroke="#e04a10" stroke-width="1.7" stroke-opacity="1"/>
<ellipse cx="426.8" cy="1395.9" rx="7.4" ry="3.7" transform="rotate(-40 426.8 1395.9)" fill="none" stroke="#e04a10" stroke-width="1.7" stroke-opacity="1"/>
<ellipse cx="431.0" cy="1398.6" rx="9.7" ry="3.7" transform="rotate(-44 431.0 1398.6)" fill="none" stroke="#e04a10" stroke-width="1.7" stroke-opacity="1"/>
<ellipse cx="427.9" cy="1393.4" rx="8.6" ry="2.9" transform="rotate(-54 427.9 1393.4)" fill="none" stroke="#e04a10" stroke-width="1.7" stroke-opacity="1"/>
<ellipse cx="427.5" cy="1391.2" rx="7.6" ry="2.7" transform="rotate(-44 427.5 1391.2)" fill="none" stroke="#e04a10" stroke-width="1.7" stroke-opacity="1"/>
<ellipse cx="434.5" cy="1396.8" rx="8.3" ry="3.9" transform="rotate(-40 434.5 1396.8)" fill="none" stroke="#e04a10" stroke-width="1.7" stroke-opacity="1"/>
<ellipse cx="435.4" cy="1396.0" rx="8.0" ry="2.6" transform="rotate(-51 435.4 1396.0)" fill="none" stroke="#e04a10" stroke-width="1.7" stroke-opacity="1"/>
<ellipse cx="431.3" cy="1389.7" rx="7.3" ry="3.3" transform="rotate(-41 431.3 1389.7)" fill="none" stroke="#e04a10" stroke-width="1.7" stroke-opacity="1"/>
<ellipse cx="436.5" cy="1393.5" rx="8.4" ry="3.4" transform="rotate(-43 436.5 1393.5)" fill="none" stroke="#e04a10" stroke-width="1.7" stroke-opacity="1"/>
<ellipse cx="432.3" cy="1387.1" rx="9.1" ry="3.8" transform="rotate(-43 432.3 1387.1)" fill="none" stroke="#e04a10" stroke-width="1.7" stroke-opacity="1"/>
<ellipse cx="437.8" cy="1391.2" rx="8.4" ry="2.6" transform="rotate(-43 437.8 1391.2)" fill="none" stroke="#e04a10" stroke-width="1.7" stroke-opacity="1"/>
<ellipse cx="435.8" cy="1387.2" rx="9.7" ry="4.0" transform="rotate(-48 435.8 1387.2)" fill="none" stroke="#e04a10" stroke-width="1.7" stroke-opacity="1"/>
<ellipse cx="437.2" cy="1386.9" rx="10.3" ry="3.5" transform="rotate(-52 437.2 1386.9)" fill="none" stroke="#e04a10" stroke-width="1.7" stroke-opacity="1"/>
<ellipse cx="436.2" cy="1383.9" rx="7.1" ry="3.8" transform="rotate(-43 436.2 1383.9)" fill="none" stroke="#e04a10" stroke-width="1.7" stroke-opacity="1"/>
<ellipse cx="437.2" cy="1383.2" rx="9.8" ry="4.0" transform="rotate(-45 437.2 1383.2)" fill="none" stroke="#e04a10" stroke-width="1.7" stroke-opacity="1"/>
<ellipse cx="439.6" cy="1383.9" rx="8.7" ry="2.5" transform="rotate(-54 439.6 1383.9)" fill="none" stroke="#e04a10" stroke-width="1.7" stroke-opacity="1"/>
<ellipse cx="444.9" cy="1387.8" rx="9.1" ry="3.2" transform="rotate(-41 444.9 1387.8)" fill="none" stroke="#e04a10" stroke-width="1.7" stroke-opacity="1"/>
<ellipse cx="442.0" cy="1382.8" rx="10.0" ry="3.7" transform="rotate(-51 442.0 1382.8)" fill="none" stroke="#e04a10" stroke-width="1.7" stroke-opacity="1"/>
<ellipse cx="441.5" cy="1380.5" rx="7.7" ry="2.7" transform="rotate(-46 441.5 1380.5)" fill="none" stroke="#e04a10" stroke-width="1.7" stroke-opacity="1"/>
<ellipse cx="442.5" cy="1379.7" rx="8.2" ry="2.5" transform="rotate(-41 442.5 1379.7)" fill="none" stroke="#e04a10" stroke-width="1.7" stroke-opacity="1"/>
<ellipse cx="444.1" cy="1379.6" rx="8.3" ry="3.3" transform="rotate(-41 444.1 1379.6)" fill="none" stroke="#e04a10" stroke-width="1.7" stroke-opacity="1"/>
<ellipse cx="445.5" cy="1379.2" rx="10.2" ry="3.1" transform="rotate(-47 445.5 1379.2)" fill="none" stroke="#e04a10" stroke-width="1.7" stroke-opacity="1"/>
<ellipse cx="447.2" cy="1379.2" rx="6.6" ry="3.0" transform="rotate(-51 447.2 1379.2)" fill="none" stroke="#e04a10" stroke-width="1.7" stroke-opacity="1"/>
<ellipse cx="425.0" cy="1392.0" rx="8.0" ry="4.0" transform="rotate(-58 425.0 1392.0)" fill="none" stroke="#e04a10" stroke-width="1.9" stroke-opacity="1"/>
<ellipse cx="430.0" cy="1384.0" rx="9.0" ry="4.0" transform="rotate(-60 430.0 1384.0)" fill="none" stroke="#e04a10" stroke-width="1.9" stroke-opacity="1"/>
<ellipse cx="436.0" cy="1377.0" rx="9.0" ry="4.5" transform="rotate(-58 436.0 1377.0)" fill="none" stroke="#e04a10" stroke-width="1.9" stroke-opacity="1"/>
<ellipse cx="441.0" cy="1370.0" rx="10.0" ry="4.5" transform="rotate(-60 441.0 1370.0)" fill="none" stroke="#e04a10" stroke-width="1.9" stroke-opacity="1"/>
<ellipse cx="447.0" cy="1364.0" rx="10.0" ry="4.5" transform="rotate(-58 447.0 1364.0)" fill="none" stroke="#e04a10" stroke-width="1.9" stroke-opacity="1"/>
<ellipse cx="451.0" cy="1372.0" rx="8.0" ry="3.5" transform="rotate(-50 451.0 1372.0)" fill="none" stroke="#e04a10" stroke-width="1.9" stroke-opacity="1"/>
<ellipse cx="455.0" cy="1379.0" rx="7.0" ry="3.0" transform="rotate(-45 455.0 1379.0)" fill="none" stroke="#e04a10" stroke-width="1.9" stroke-opacity="1"/>
<ellipse cx="448.0" cy="1386.0" rx="7.0" ry="3.0" transform="rotate(-45 448.0 1386.0)" fill="none" stroke="#e04a10" stroke-width="1.9" stroke-opacity="1"/>
<ellipse cx="460.3" cy="1344.4" rx="12.5" ry="5.5" transform="rotate(-55 460.3 1344.4)" fill="none" stroke="#e04a10" stroke-width="1.9" stroke-opacity="1"/>
<ellipse cx="458.0" cy="1352.0" rx="10.0" ry="4.0" transform="rotate(-52 458.0 1352.0)" fill="none" stroke="#e04a10" stroke-width="1.9" stroke-opacity="1"/>
<ellipse cx="465.0" cy="1357.5" rx="9.0" ry="4.0" transform="rotate(-48 465.0 1357.5)" fill="none" stroke="#e04a10" stroke-width="1.9" stroke-opacity="1"/>
<ellipse cx="470.0" cy="1362.0" rx="7.0" ry="3.0" transform="rotate(-44 470.0 1362.0)" fill="none" stroke="#e04a10" stroke-width="1.9" stroke-opacity="1"/>
<ellipse cx="474.0" cy="1358.0" rx="4.5" ry="2.0" transform="rotate(-40 474.0 1358.0)" fill="none" stroke="#e04a10" stroke-width="1.9" stroke-opacity="1"/>
<ellipse cx="480.0" cy="1357.0" rx="4.0" ry="2.0" transform="rotate(-40 480.0 1357.0)" fill="none" stroke="#e04a10" stroke-width="1.9" stroke-opacity="1"/>
<ellipse cx="486.0" cy="1353.0" rx="4.5" ry="2.0" transform="rotate(-38 486.0 1353.0)" fill="none" stroke="#e04a10" stroke-width="1.9" stroke-opacity="1"/>
<ellipse cx="491.0" cy="1350.0" rx="4.0" ry="2.0" transform="rotate(-38 491.0 1350.0)" fill="none" stroke="#e04a10" stroke-width="1.9" stroke-opacity="1"/>
<ellipse cx="498.8" cy="1345.7" rx="11.5" ry="4.0" transform="rotate(-55 498.8 1345.7)" fill="none" stroke="#e04a10" stroke-width="1.9" stroke-opacity="1"/>
<ellipse cx="497.0" cy="1347.0" rx="7.0" ry="2.5" transform="rotate(-50 497.0 1347.0)" fill="none" stroke="#e04a10" stroke-width="1.9" stroke-opacity="1"/>
<ellipse cx="505.0" cy="1337.0" rx="12.0" ry="4.0" transform="rotate(-58 505.0 1337.0)" fill="none" stroke="#e04a10" stroke-width="1.9" stroke-opacity="1"/>
<ellipse cx="523.6" cy="1334.6" rx="4.0" ry="2.5" transform="rotate(-35 523.6 1334.6)" fill="none" stroke="#e04a10" stroke-width="1.9" stroke-opacity="1"/>
<ellipse cx="520.0" cy="1336.0" rx="2.5" ry="1.5" transform="rotate(-35 520.0 1336.0)" fill="none" stroke="#e04a10" stroke-width="1.9" stroke-opacity="1"/>
<ellipse cx="545.0" cy="1328.0" rx="22.0" ry="7.5" transform="rotate(-48 545.0 1328.0)" fill="none" stroke="#e04a10" stroke-width="2.0" stroke-opacity="1"/>
<ellipse cx="553.0" cy="1320.0" rx="25.0" ry="9.0" transform="rotate(-50 553.0 1320.0)" fill="none" stroke="#e04a10" stroke-width="2.0" stroke-opacity="1"/>
<ellipse cx="560.0" cy="1312.0" rx="27.0" ry="10.0" transform="rotate(-52 560.0 1312.0)" fill="none" stroke="#e04a10" stroke-width="2.0" stroke-opacity="1"/>
<ellipse cx="566.0" cy="1303.0" rx="28.0" ry="10.5" transform="rotate(-54 566.0 1303.0)" fill="none" stroke="#e04a10" stroke-width="2.0" stroke-opacity="1"/>
<ellipse cx="572.0" cy="1296.0" rx="25.0" ry="9.5" transform="rotate(-55 572.0 1296.0)" fill="none" stroke="#e04a10" stroke-width="2.0" stroke-opacity="1"/>
<ellipse cx="577.0" cy="1289.0" rx="22.0" ry="8.5" transform="rotate(-56 577.0 1289.0)" fill="none" stroke="#e04a10" stroke-width="2.0" stroke-opacity="1"/>
<ellipse cx="580.0" cy="1284.0" rx="16.0" ry="7.0" transform="rotate(-58 580.0 1284.0)" fill="none" stroke="#e04a10" stroke-width="2.0" stroke-opacity="1"/>
<ellipse cx="558.0" cy="1318.0" rx="17.0" ry="5.0" transform="rotate(-46 558.0 1318.0)" fill="none" stroke="#e04a10" stroke-width="2.0" stroke-opacity="1"/>
<ellipse cx="570.0" cy="1300.0" rx="15.0" ry="4.5" transform="rotate(-52 570.0 1300.0)" fill="none" stroke="#e04a10" stroke-width="2.0" stroke-opacity="1"/>
<ellipse cx="611.0" cy="1293.0" rx="21.0" ry="6.5" transform="rotate(-40 611.0 1293.0)" fill="none" stroke="#e04a10" stroke-width="2.0" stroke-opacity="1"/>
<ellipse cx="619.0" cy="1285.0" rx="23.0" ry="7.5" transform="rotate(-40 619.0 1285.0)" fill="none" stroke="#e04a10" stroke-width="2.0" stroke-opacity="1"/>
<ellipse cx="628.0" cy="1277.0" rx="24.0" ry="8.0" transform="rotate(-41 628.0 1277.0)" fill="none" stroke="#e04a10" stroke-width="2.0" stroke-opacity="1"/>
<ellipse cx="637.0" cy="1268.0" rx="25.0" ry="8.5" transform="rotate(-42 637.0 1268.0)" fill="none" stroke="#e04a10" stroke-width="2.0" stroke-opacity="1"/>
<ellipse cx="646.0" cy="1259.0" rx="24.0" ry="8.0" transform="rotate(-42 646.0 1259.0)" fill="none" stroke="#e04a10" stroke-width="2.0" stroke-opacity="1"/>
<ellipse cx="655.0" cy="1252.0" rx="22.0" ry="7.5" transform="rotate(-40 655.0 1252.0)" fill="none" stroke="#e04a10" stroke-width="2.0" stroke-opacity="1"/>
<ellipse cx="658.0" cy="1273.0" rx="18.0" ry="7.5" transform="rotate(-42 658.0 1273.0)" fill="none" stroke="#e04a10" stroke-width="2.0" stroke-opacity="1"/>
<ellipse cx="668.0" cy="1240.0" rx="12.0" ry="6.0" transform="rotate(-38 668.0 1240.0)" fill="none" stroke="#e04a10" stroke-width="2.0" stroke-opacity="1"/>
<ellipse cx="677.0" cy="1252.0" rx="20.0" ry="6.5" transform="rotate(-38 677.0 1252.0)" fill="none" stroke="#e04a10" stroke-width="2.0" stroke-opacity="1"/>
<ellipse cx="688.0" cy="1245.0" rx="21.0" ry="6.5" transform="rotate(-36 688.0 1245.0)" fill="none" stroke="#e04a10" stroke-width="2.0" stroke-opacity="1"/>
<ellipse cx="699.0" cy="1238.0" rx="19.0" ry="6.5" transform="rotate(-36 699.0 1238.0)" fill="none" stroke="#e04a10" stroke-width="2.0" stroke-opacity="1"/>
<ellipse cx="708.0" cy="1233.0" rx="18.0" ry="6.0" transform="rotate(-34 708.0 1233.0)" fill="none" stroke="#e04a10" stroke-width="2.0" stroke-opacity="1"/>
<ellipse cx="722.0" cy="1218.0" rx="24.0" ry="11.5" transform="rotate(-42 722.0 1218.0)" fill="none" stroke="#e04a10" stroke-width="2.0" stroke-opacity="1"/>
<ellipse cx="692.0" cy="1242.0" rx="26.0" ry="5.0" transform="rotate(-36 692.0 1242.0)" fill="none" stroke="#e04a10" stroke-width="2.0" stroke-opacity="1"/>
<ellipse cx="624.0" cy="1282.0" rx="15.0" ry="4.0" transform="rotate(-40 624.0 1282.0)" fill="none" stroke="#e04a10" stroke-width="2.0" stroke-opacity="1"/>
<ellipse cx="642.0" cy="1262.0" rx="15.0" ry="4.5" transform="rotate(-42 642.0 1262.0)" fill="none" stroke="#e04a10" stroke-width="2.0" stroke-opacity="1"/>
<ellipse cx="766.5" cy="1230.5" rx="16.5" ry="5.0" transform="rotate(-30 766.5 1230.5)" fill="none" stroke="#e04a10" stroke-width="2.0" stroke-opacity="1"/>
<ellipse cx="760.5" cy="1233.8" rx="6.5" ry="3.0" transform="rotate(-30 760.5 1233.8)" fill="none" stroke="#e04a10" stroke-width="2.0" stroke-opacity="1"/>
<ellipse cx="771.5" cy="1227.8" rx="6.5" ry="3.0" transform="rotate(-30 771.5 1227.8)" fill="none" stroke="#e04a10" stroke-width="2.0" stroke-opacity="1"/>
<ellipse cx="800.0" cy="1208.5" rx="7.0" ry="3.0" transform="rotate(-42 800.0 1208.5)" fill="none" stroke="#e04a10" stroke-width="2.0" stroke-opacity="1"/>
<ellipse cx="799.0" cy="1209.0" rx="3.0" ry="1.5" transform="rotate(-42 799.0 1209.0)" fill="none" stroke="#e04a10" stroke-width="2.0" stroke-opacity="1"/>
<ellipse cx="1185.5" cy="1111.0" rx="25.0" ry="9.0" transform="rotate(-37 1185.5 1111.0)" fill="none" stroke="#e04a10" stroke-width="2.2" stroke-opacity="1"/>
</g>
<line x1="398.3" y1="1608.8" x2="327.2" y2="1571.6" stroke="#000" stroke-width="10.5" stroke-linecap="round"/>
<polygon points="303.3,1559.2 341.9,1559.8 327.2,1571.6 325.9,1590.5" fill="#000"/>
<line x1="512.1" y1="1494.8" x2="461.5" y2="1433.6" stroke="#000" stroke-width="10.5" stroke-linecap="round"/>
<polygon points="444.4,1412.9 479.7,1428.5 461.5,1433.6 453.0,1450.5" fill="#000"/>
<line x1="716.4" y1="1357.8" x2="679.8" y2="1302.5" stroke="#000" stroke-width="10.5" stroke-linecap="round"/>
<polygon points="665.0,1280.0 698.5,1299.3 679.8,1302.5 669.6,1318.3" fill="#000"/>
<line x1="940.6" y1="1245.6" x2="954.4" y2="1181.5" stroke="#000" stroke-width="10.5" stroke-linecap="round"/>
<polygon points="960.0,1155.2 969.7,1192.6 954.4,1181.5 935.8,1185.3" fill="#000"/>
<text transform="translate(431 1633) rotate(-34.4)" font-size="38.6" font-style="italic" fill="#111" style="stroke-width:0.3px">clusters in the low -grade metapelite</text>
<line x1="192.5" y1="961.5" x2="1334.0" y2="961.5" stroke="#444" stroke-width="3.4"/>
<line x1="1332.5" y1="961.5" x2="1332.5" y2="1737.0" stroke="#444" stroke-width="3"/>
<line x1="194.0" y1="961.5" x2="194.0" y2="1737.0" stroke="#0c0c0c" stroke-width="3.8"/>
<line x1="192.5" y1="1737.0" x2="1334.0" y2="1737.0" stroke="#0c0c0c" stroke-width="3.8"/>
<line x1="178.0" y1="1717.0" x2="194.0" y2="1717.0" stroke="#333" stroke-width="2.6"/>
<text x="172" y="1731.4" font-size="40.3" text-anchor="end" fill="#000" class="tk2">0.000</text>
<line x1="184.0" y1="1680.4" x2="194.0" y2="1680.4" stroke="#888" stroke-width="2.2"/>
<line x1="184.0" y1="1643.7" x2="194.0" y2="1643.7" stroke="#888" stroke-width="2.2"/>
<line x1="184.0" y1="1607.1" x2="194.0" y2="1607.1" stroke="#888" stroke-width="2.2"/>
<line x1="184.0" y1="1570.4" x2="194.0" y2="1570.4" stroke="#888" stroke-width="2.2"/>
<line x1="178.0" y1="1533.8" x2="194.0" y2="1533.8" stroke="#333" stroke-width="2.6"/>
<text x="172" y="1548.2" font-size="40.3" text-anchor="end" fill="#000" class="tk2">0.200</text>
<line x1="184.0" y1="1497.2" x2="194.0" y2="1497.2" stroke="#888" stroke-width="2.2"/>
<line x1="184.0" y1="1460.5" x2="194.0" y2="1460.5" stroke="#888" stroke-width="2.2"/>
<line x1="184.0" y1="1423.9" x2="194.0" y2="1423.9" stroke="#888" stroke-width="2.2"/>
<line x1="184.0" y1="1387.2" x2="194.0" y2="1387.2" stroke="#888" stroke-width="2.2"/>
<line x1="178.0" y1="1350.6" x2="194.0" y2="1350.6" stroke="#333" stroke-width="2.6"/>
<text x="172" y="1365.0" font-size="40.3" text-anchor="end" fill="#000" class="tk2">0.400</text>
<line x1="184.0" y1="1314.0" x2="194.0" y2="1314.0" stroke="#888" stroke-width="2.2"/>
<line x1="184.0" y1="1277.3" x2="194.0" y2="1277.3" stroke="#888" stroke-width="2.2"/>
<line x1="184.0" y1="1240.7" x2="194.0" y2="1240.7" stroke="#888" stroke-width="2.2"/>
<line x1="184.0" y1="1204.0" x2="194.0" y2="1204.0" stroke="#888" stroke-width="2.2"/>
<line x1="178.0" y1="1167.4" x2="194.0" y2="1167.4" stroke="#333" stroke-width="2.6"/>
<text x="172" y="1181.8" font-size="40.3" text-anchor="end" fill="#000" class="tk2">0.600</text>
<line x1="184.0" y1="1130.8" x2="194.0" y2="1130.8" stroke="#888" stroke-width="2.2"/>
<line x1="184.0" y1="1094.1" x2="194.0" y2="1094.1" stroke="#888" stroke-width="2.2"/>
<line x1="184.0" y1="1057.5" x2="194.0" y2="1057.5" stroke="#888" stroke-width="2.2"/>
<line x1="184.0" y1="1020.8" x2="194.0" y2="1020.8" stroke="#888" stroke-width="2.2"/>
<line x1="178.0" y1="984.2" x2="194.0" y2="984.2" stroke="#333" stroke-width="2.6"/>
<text x="172" y="998.6" font-size="40.3" text-anchor="end" fill="#000" class="tk2">0.800</text>
<line x1="212.0" y1="1737.0" x2="212.0" y2="1750.0" stroke="#333" stroke-width="2.6"/>
<text x="219.5" y="1785" font-size="40.3" text-anchor="middle" fill="#000" class="tk2">0.00</text>
<line x1="284.3" y1="1737.0" x2="284.3" y2="1745.0" stroke="#888" stroke-width="2.2"/>
<line x1="356.5" y1="1737.0" x2="356.5" y2="1745.0" stroke="#888" stroke-width="2.2"/>
<line x1="428.8" y1="1737.0" x2="428.8" y2="1745.0" stroke="#888" stroke-width="2.2"/>
<line x1="501.0" y1="1737.0" x2="501.0" y2="1745.0" stroke="#888" stroke-width="2.2"/>
<line x1="573.3" y1="1737.0" x2="573.3" y2="1750.0" stroke="#333" stroke-width="2.6"/>
<text x="580.8" y="1785" font-size="40.3" text-anchor="middle" fill="#000" class="tk2">10.00</text>
<line x1="645.6" y1="1737.0" x2="645.6" y2="1745.0" stroke="#888" stroke-width="2.2"/>
<line x1="717.8" y1="1737.0" x2="717.8" y2="1745.0" stroke="#888" stroke-width="2.2"/>
<line x1="790.1" y1="1737.0" x2="790.1" y2="1745.0" stroke="#888" stroke-width="2.2"/>
<line x1="862.3" y1="1737.0" x2="862.3" y2="1745.0" stroke="#888" stroke-width="2.2"/>
<line x1="934.6" y1="1737.0" x2="934.6" y2="1750.0" stroke="#333" stroke-width="2.6"/>
<text x="942.1" y="1785" font-size="40.3" text-anchor="middle" fill="#000" class="tk2">20.00</text>
<line x1="1006.9" y1="1737.0" x2="1006.9" y2="1745.0" stroke="#888" stroke-width="2.2"/>
<line x1="1079.1" y1="1737.0" x2="1079.1" y2="1745.0" stroke="#888" stroke-width="2.2"/>
<line x1="1151.4" y1="1737.0" x2="1151.4" y2="1745.0" stroke="#888" stroke-width="2.2"/>
<line x1="1223.6" y1="1737.0" x2="1223.6" y2="1745.0" stroke="#888" stroke-width="2.2"/>
<line x1="1295.9" y1="1737.0" x2="1295.9" y2="1750.0" stroke="#333" stroke-width="2.6"/>
<text x="1303.4" y="1785" font-size="40.3" text-anchor="middle" fill="#000" class="tk2">30.00</text>
<text transform="translate(624 1848)" font-size="67" fill="#111"><tspan font-size="36.5" dy="-22.5">207</tspan><tspan dy="22.5">Pb/</tspan><tspan font-size="36.5" dy="-22.5" dx="3">235</tspan><tspan dy="22.5">U</tspan></text>
<text transform="translate(53.5 1505) rotate(-90)" font-size="67" fill="#111"><tspan font-size="36.5" dy="-22.5">206</tspan><tspan dy="22.5">Pb/</tspan><tspan font-size="36.5" dy="-22.5" dx="3">238</tspan><tspan dy="22.5">U</tspan></text>
</g>
<g id="panelC">
<text x="11.5" y="2020.5" font-size="48.8" fill="#111">(c)</text>
<line x1="418.7" y1="2074" x2="418.7" y2="3002.5" stroke="#f7f7f4" stroke-width="3.5" stroke-dasharray="40 8"/>
<line x1="664.0" y1="2074" x2="664.0" y2="3002.5" stroke="#f7f7f4" stroke-width="3.5" stroke-dasharray="40 8"/>
<line x1="909.3" y1="2074" x2="909.3" y2="3002.5" stroke="#f7f7f4" stroke-width="3.5" stroke-dasharray="40 8"/>
<line x1="1154.7" y1="2074" x2="1154.7" y2="3002.5" stroke="#f7f7f4" stroke-width="3.5" stroke-dasharray="40 8"/>
<line x1="1400.0" y1="2074" x2="1400.0" y2="3002.5" stroke="#f7f7f4" stroke-width="3.5" stroke-dasharray="40 8"/>
<line x1="554.4" y1="2070" x2="554.4" y2="3009" stroke="#343434" stroke-width="3.8" stroke-dasharray="21.5 11.2" stroke-dashoffset="6"/>
<line x1="762.9" y1="2070" x2="762.9" y2="3009" stroke="#343434" stroke-width="3.8" stroke-dasharray="21.5 11.2" stroke-dashoffset="6"/>
<line x1="910.1" y1="2070" x2="910.1" y2="3009" stroke="#343434" stroke-width="3.8" stroke-dasharray="21.5 11.2" stroke-dashoffset="6"/>
<path d="M559.5 2485.0 L559.5 2479.5 C562.2 2479.4 575.0 2479.3 580.0 2479.0 C585.0 2478.7 592.7 2478.7 597.2 2477.0 C601.7 2475.3 608.8 2469.9 613.6 2466.3 C618.4 2462.7 627.9 2454.1 633.1 2450.0 C638.3 2445.9 647.5 2438.6 652.7 2435.3 C657.9 2432.0 667.7 2427.3 672.3 2425.5 C676.9 2423.7 684.0 2423.4 687.0 2421.5 C690.0 2419.6 693.0 2417.5 695.1 2410.9 C697.2 2404.3 701.5 2379.8 703.0 2372.0 C704.5 2364.2 704.8 2359.2 706.1 2352.7 C707.4 2346.2 710.9 2331.1 712.6 2323.3 C714.3 2315.5 717.5 2301.4 719.2 2294.0 C720.9 2286.6 724.0 2274.9 725.7 2267.9 C727.4 2260.9 730.5 2248.3 732.2 2241.8 C733.9 2235.3 737.0 2224.1 738.7 2218.9 C740.4 2213.7 743.6 2206.1 745.3 2202.6 C747.0 2199.1 750.1 2193.5 751.8 2192.8 C753.5 2192.1 756.6 2195.7 758.3 2197.7 C760.0 2199.7 763.1 2204.0 764.8 2207.5 C766.5 2211.0 769.7 2218.6 771.4 2223.8 C773.1 2229.0 776.2 2240.4 777.9 2246.7 C779.6 2253.0 782.7 2263.9 784.4 2271.1 C786.1 2278.3 789.2 2293.1 790.9 2300.5 C792.6 2307.9 795.8 2319.6 797.5 2326.6 C799.2 2333.6 802.0 2344.6 804.0 2352.7 C806.0 2360.8 810.6 2381.6 812.5 2387.5 C814.4 2393.4 816.3 2395.4 818.0 2397.0 C819.7 2398.6 823.5 2400.0 825.5 2399.6 C827.5 2399.2 830.8 2395.7 833.0 2394.0 C835.2 2392.3 838.9 2388.8 841.8 2387.0 C844.7 2385.2 851.5 2381.3 854.8 2380.8 C858.1 2380.3 862.7 2381.0 866.2 2383.1 C869.7 2385.2 876.3 2392.7 880.9 2396.2 C885.5 2399.7 895.3 2406.2 900.5 2409.2 C905.7 2412.2 914.9 2415.9 920.1 2419.0 C925.3 2422.1 935.4 2429.3 939.7 2432.1 C944.0 2434.9 948.4 2437.8 952.7 2440.2 C957.0 2442.6 966.2 2447.8 972.3 2450.0 C978.4 2452.2 991.4 2455.0 998.4 2456.5 C1005.4 2458.0 1018.0 2460.5 1024.5 2461.4 C1031.0 2462.3 1041.2 2462.5 1047.3 2463.1 C1053.4 2463.7 1064.5 2465.4 1070.2 2466.0 C1075.9 2466.6 1084.9 2467.7 1089.7 2467.5 C1094.5 2467.3 1101.8 2465.2 1106.0 2464.5 C1110.2 2463.8 1117.1 2461.9 1121.5 2462.0 C1125.9 2462.1 1134.2 2464.2 1138.7 2465.5 C1143.2 2466.8 1150.7 2470.2 1155.0 2472.0 C1159.3 2473.8 1167.1 2477.7 1171.0 2479.0 C1174.9 2480.3 1182.4 2481.2 1184.2 2481.5 L1184.2 2485.0 Z" fill="rgb(175,152,192)" fill-opacity="0.6"/>
<path d="M559.5 2479.5 C562.2 2479.4 575.0 2479.3 580.0 2479.0 C585.0 2478.7 592.7 2478.7 597.2 2477.0 C601.7 2475.3 608.8 2469.9 613.6 2466.3 C618.4 2462.7 627.9 2454.1 633.1 2450.0 C638.3 2445.9 647.5 2438.6 652.7 2435.3 C657.9 2432.0 667.7 2427.3 672.3 2425.5 C676.9 2423.7 684.0 2423.4 687.0 2421.5 C690.0 2419.6 693.0 2417.5 695.1 2410.9 C697.2 2404.3 701.5 2379.8 703.0 2372.0 C704.5 2364.2 704.8 2359.2 706.1 2352.7 C707.4 2346.2 710.9 2331.1 712.6 2323.3 C714.3 2315.5 717.5 2301.4 719.2 2294.0 C720.9 2286.6 724.0 2274.9 725.7 2267.9 C727.4 2260.9 730.5 2248.3 732.2 2241.8 C733.9 2235.3 737.0 2224.1 738.7 2218.9 C740.4 2213.7 743.6 2206.1 745.3 2202.6 C747.0 2199.1 750.1 2193.5 751.8 2192.8 C753.5 2192.1 756.6 2195.7 758.3 2197.7 C760.0 2199.7 763.1 2204.0 764.8 2207.5 C766.5 2211.0 769.7 2218.6 771.4 2223.8 C773.1 2229.0 776.2 2240.4 777.9 2246.7 C779.6 2253.0 782.7 2263.9 784.4 2271.1 C786.1 2278.3 789.2 2293.1 790.9 2300.5 C792.6 2307.9 795.8 2319.6 797.5 2326.6 C799.2 2333.6 802.0 2344.6 804.0 2352.7 C806.0 2360.8 810.6 2381.6 812.5 2387.5 C814.4 2393.4 816.3 2395.4 818.0 2397.0 C819.7 2398.6 823.5 2400.0 825.5 2399.6 C827.5 2399.2 830.8 2395.7 833.0 2394.0 C835.2 2392.3 838.9 2388.8 841.8 2387.0 C844.7 2385.2 851.5 2381.3 854.8 2380.8 C858.1 2380.3 862.7 2381.0 866.2 2383.1 C869.7 2385.2 876.3 2392.7 880.9 2396.2 C885.5 2399.7 895.3 2406.2 900.5 2409.2 C905.7 2412.2 914.9 2415.9 920.1 2419.0 C925.3 2422.1 935.4 2429.3 939.7 2432.1 C944.0 2434.9 948.4 2437.8 952.7 2440.2 C957.0 2442.6 966.2 2447.8 972.3 2450.0 C978.4 2452.2 991.4 2455.0 998.4 2456.5 C1005.4 2458.0 1018.0 2460.5 1024.5 2461.4 C1031.0 2462.3 1041.2 2462.5 1047.3 2463.1 C1053.4 2463.7 1064.5 2465.4 1070.2 2466.0 C1075.9 2466.6 1084.9 2467.7 1089.7 2467.5 C1094.5 2467.3 1101.8 2465.2 1106.0 2464.5 C1110.2 2463.8 1117.1 2461.9 1121.5 2462.0 C1125.9 2462.1 1134.2 2464.2 1138.7 2465.5 C1143.2 2466.8 1150.7 2470.2 1155.0 2472.0 C1159.3 2473.8 1167.1 2477.7 1171.0 2479.0 C1174.9 2480.3 1182.4 2481.2 1184.2 2481.5" fill="none" stroke="#fff" stroke-opacity="0.85" stroke-width="2"/>
<path d="M559.5 2583.5 L559.5 2579.5 C561.9 2578.8 573.1 2575.4 577.7 2574.0 C582.3 2572.6 589.7 2569.7 594.0 2569.1 C598.3 2568.5 606.0 2569.3 610.3 2569.8 C614.6 2570.3 622.7 2572.2 626.6 2573.0 C630.5 2573.8 635.8 2575.5 639.7 2575.6 C643.6 2575.7 652.5 2575.7 656.0 2574.0 C659.5 2572.3 663.2 2566.3 665.8 2562.6 C668.4 2558.9 672.9 2552.0 675.5 2546.3 C678.1 2540.6 682.2 2528.0 685.3 2520.2 C688.4 2512.4 694.9 2497.1 698.4 2487.5 C701.9 2477.9 708.4 2458.8 711.4 2448.4 C714.4 2438.0 719.0 2419.7 721.2 2409.2 C723.4 2398.7 726.6 2378.4 728.1 2370.0 C729.6 2361.6 731.0 2352.0 732.2 2346.2 C733.4 2340.4 735.8 2330.9 737.1 2326.6 C738.4 2322.3 740.5 2316.9 742.0 2313.6 C743.5 2310.3 746.6 2304.9 748.5 2302.1 C750.4 2299.3 753.7 2291.9 755.9 2292.3 C758.1 2292.7 762.3 2301.5 764.8 2305.4 C767.3 2309.3 772.0 2317.1 774.6 2321.7 C777.2 2326.3 781.8 2334.5 784.4 2339.7 C787.0 2344.9 792.0 2355.5 794.2 2360.9 C796.4 2366.3 799.0 2373.5 801.0 2380.0 C803.0 2386.5 807.1 2402.0 809.3 2410.0 C811.5 2418.0 815.8 2434.2 817.5 2440.0 C819.2 2445.8 820.6 2451.4 822.3 2453.3 C824.0 2455.2 827.8 2454.6 830.0 2454.5 C832.2 2454.4 836.1 2455.8 838.6 2452.8 C841.1 2449.8 846.1 2437.0 848.4 2432.0 C850.7 2427.0 853.8 2419.8 856.0 2415.0 C858.2 2410.2 861.3 2402.6 864.6 2396.2 C867.9 2389.8 877.0 2373.1 880.9 2366.8 C884.8 2360.5 890.9 2352.4 894.0 2348.9 C897.1 2345.4 901.7 2341.1 903.8 2340.7 C905.9 2340.3 908.3 2343.8 910.0 2346.0 C911.7 2348.2 914.6 2352.1 916.8 2357.0 C919.0 2361.9 923.5 2374.4 926.6 2383.1 C929.7 2391.8 936.2 2412.7 939.7 2422.3 C943.2 2431.9 948.8 2445.8 952.7 2454.9 C956.6 2464.0 964.7 2481.5 969.0 2490.8 C973.3 2500.1 981.0 2520.0 985.3 2525.0 C989.6 2530.0 997.2 2527.0 1001.6 2528.3 C1006.0 2529.6 1013.6 2532.6 1018.0 2534.8 C1022.4 2537.0 1029.7 2541.8 1034.3 2544.6 C1038.9 2547.4 1047.9 2555.1 1052.2 2556.0 C1056.5 2556.9 1062.8 2552.3 1066.9 2551.2 C1071.0 2550.1 1078.9 2548.1 1083.2 2547.9 C1087.5 2547.7 1095.2 2548.6 1099.5 2549.5 C1103.8 2550.4 1111.4 2552.4 1115.8 2554.4 C1120.2 2556.4 1127.8 2561.8 1132.2 2564.2 C1136.6 2566.6 1143.5 2570.2 1148.5 2572.3 C1153.5 2574.4 1164.5 2578.2 1170.0 2579.7 C1175.5 2581.2 1187.3 2583.0 1190.0 2583.5 L1190.0 2583.5 Z" fill="rgb(107,107,165)" fill-opacity="0.6"/>
<path d="M559.5 2579.5 C561.9 2578.8 573.1 2575.4 577.7 2574.0 C582.3 2572.6 589.7 2569.7 594.0 2569.1 C598.3 2568.5 606.0 2569.3 610.3 2569.8 C614.6 2570.3 622.7 2572.2 626.6 2573.0 C630.5 2573.8 635.8 2575.5 639.7 2575.6 C643.6 2575.7 652.5 2575.7 656.0 2574.0 C659.5 2572.3 663.2 2566.3 665.8 2562.6 C668.4 2558.9 672.9 2552.0 675.5 2546.3 C678.1 2540.6 682.2 2528.0 685.3 2520.2 C688.4 2512.4 694.9 2497.1 698.4 2487.5 C701.9 2477.9 708.4 2458.8 711.4 2448.4 C714.4 2438.0 719.0 2419.7 721.2 2409.2 C723.4 2398.7 726.6 2378.4 728.1 2370.0 C729.6 2361.6 731.0 2352.0 732.2 2346.2 C733.4 2340.4 735.8 2330.9 737.1 2326.6 C738.4 2322.3 740.5 2316.9 742.0 2313.6 C743.5 2310.3 746.6 2304.9 748.5 2302.1 C750.4 2299.3 753.7 2291.9 755.9 2292.3 C758.1 2292.7 762.3 2301.5 764.8 2305.4 C767.3 2309.3 772.0 2317.1 774.6 2321.7 C777.2 2326.3 781.8 2334.5 784.4 2339.7 C787.0 2344.9 792.0 2355.5 794.2 2360.9 C796.4 2366.3 799.0 2373.5 801.0 2380.0 C803.0 2386.5 807.1 2402.0 809.3 2410.0 C811.5 2418.0 815.8 2434.2 817.5 2440.0 C819.2 2445.8 820.6 2451.4 822.3 2453.3 C824.0 2455.2 827.8 2454.6 830.0 2454.5 C832.2 2454.4 836.1 2455.8 838.6 2452.8 C841.1 2449.8 846.1 2437.0 848.4 2432.0 C850.7 2427.0 853.8 2419.8 856.0 2415.0 C858.2 2410.2 861.3 2402.6 864.6 2396.2 C867.9 2389.8 877.0 2373.1 880.9 2366.8 C884.8 2360.5 890.9 2352.4 894.0 2348.9 C897.1 2345.4 901.7 2341.1 903.8 2340.7 C905.9 2340.3 908.3 2343.8 910.0 2346.0 C911.7 2348.2 914.6 2352.1 916.8 2357.0 C919.0 2361.9 923.5 2374.4 926.6 2383.1 C929.7 2391.8 936.2 2412.7 939.7 2422.3 C943.2 2431.9 948.8 2445.8 952.7 2454.9 C956.6 2464.0 964.7 2481.5 969.0 2490.8 C973.3 2500.1 981.0 2520.0 985.3 2525.0 C989.6 2530.0 997.2 2527.0 1001.6 2528.3 C1006.0 2529.6 1013.6 2532.6 1018.0 2534.8 C1022.4 2537.0 1029.7 2541.8 1034.3 2544.6 C1038.9 2547.4 1047.9 2555.1 1052.2 2556.0 C1056.5 2556.9 1062.8 2552.3 1066.9 2551.2 C1071.0 2550.1 1078.9 2548.1 1083.2 2547.9 C1087.5 2547.7 1095.2 2548.6 1099.5 2549.5 C1103.8 2550.4 1111.4 2552.4 1115.8 2554.4 C1120.2 2556.4 1127.8 2561.8 1132.2 2564.2 C1136.6 2566.6 1143.5 2570.2 1148.5 2572.3 C1153.5 2574.4 1164.5 2578.2 1170.0 2579.7 C1175.5 2581.2 1187.3 2583.0 1190.0 2583.5" fill="none" stroke="#fff" stroke-opacity="0.85" stroke-width="2"/>
<path d="M1293.5 2583.5 L1293.5 2583.5 C1295.7 2583.0 1305.8 2580.9 1310.0 2580.0 C1314.2 2579.1 1320.9 2577.2 1325.0 2576.5 C1329.1 2575.8 1336.8 2575.0 1340.8 2574.8 C1344.8 2574.6 1351.3 2575.0 1355.0 2575.3 C1358.7 2575.6 1366.7 2576.5 1368.5 2576.7 L1368.5 2583.5 Z" fill="rgb(107,107,165)" fill-opacity="0.6"/>
<path d="M1293.5 2583.5 C1295.7 2583.0 1305.8 2580.9 1310.0 2580.0 C1314.2 2579.1 1320.9 2577.2 1325.0 2576.5 C1329.1 2575.8 1336.8 2575.0 1340.8 2574.8 C1344.8 2574.6 1351.3 2575.0 1355.0 2575.3 C1358.7 2575.6 1366.7 2576.5 1368.5 2576.7" fill="none" stroke="#fff" stroke-opacity="0.85" stroke-width="2"/>
<path d="M482.4 2682.0 L482.4 2668.1 C484.7 2665.1 495.4 2651.4 499.4 2645.3 C503.4 2639.2 509.1 2627.6 512.4 2622.4 C515.7 2617.2 520.3 2609.9 523.8 2606.1 C527.3 2602.3 535.1 2595.8 538.5 2593.7 C541.9 2591.6 546.3 2590.3 549.0 2590.5 C551.7 2590.7 556.5 2592.8 559.0 2595.0 C561.5 2597.2 565.4 2603.3 567.9 2607.0 C570.4 2610.7 574.7 2618.2 577.7 2622.4 C580.7 2626.6 587.2 2634.8 590.7 2638.7 C594.2 2642.6 600.5 2648.9 603.8 2651.8 C607.1 2654.7 611.3 2659.1 615.2 2660.5 C619.1 2661.9 628.5 2662.3 633.1 2662.0 C637.7 2661.7 645.5 2659.7 649.4 2658.3 C653.3 2656.9 659.0 2654.2 662.5 2651.8 C666.0 2649.4 672.5 2644.7 675.5 2640.4 C678.5 2636.1 682.7 2625.5 685.3 2619.2 C687.9 2612.9 692.7 2600.3 695.1 2593.1 C697.5 2585.9 700.8 2573.4 703.0 2565.0 C705.2 2556.6 708.5 2542.5 711.4 2530.0 C714.3 2517.5 721.4 2484.3 724.5 2471.2 C727.6 2458.1 731.7 2441.1 734.3 2432.0 C736.9 2422.9 741.7 2408.5 744.1 2402.7 C746.5 2396.9 750.2 2390.3 752.2 2388.5 C754.2 2386.7 757.0 2388.5 759.0 2389.5 C761.0 2390.5 765.0 2393.6 766.9 2396.2 C768.8 2398.8 771.2 2403.1 773.4 2409.2 C775.6 2415.3 780.1 2431.5 783.2 2441.9 C786.3 2452.3 792.8 2475.3 796.3 2487.0 C799.8 2498.7 806.0 2520.3 809.3 2530.0 C812.6 2539.7 818.1 2554.1 820.7 2560.0 C823.3 2565.9 826.7 2571.8 829.0 2574.5 C831.3 2577.2 835.6 2579.5 838.0 2580.0 C840.4 2580.5 844.0 2580.4 846.7 2578.5 C849.4 2576.6 854.4 2570.7 858.1 2565.8 C861.8 2560.9 870.9 2546.2 874.4 2541.4 C877.9 2536.6 881.4 2532.4 884.2 2530.0 C887.0 2527.6 893.0 2523.9 895.6 2523.4 C898.2 2522.9 902.0 2524.7 904.0 2526.0 C906.0 2527.3 907.7 2529.2 910.3 2533.2 C912.9 2537.2 919.8 2549.8 923.3 2556.0 C926.8 2562.2 933.3 2574.2 936.4 2580.0 C939.5 2585.8 943.6 2594.8 946.2 2599.6 C948.8 2604.4 953.0 2611.8 956.0 2615.9 C959.0 2620.0 965.1 2626.9 969.0 2630.6 C972.9 2634.3 980.5 2640.6 985.3 2643.6 C990.1 2646.6 998.8 2651.0 1004.9 2653.4 C1011.0 2655.8 1024.5 2659.4 1031.0 2661.6 C1037.5 2663.8 1047.7 2667.8 1053.8 2669.7 C1059.9 2671.6 1071.0 2675.0 1076.7 2676.2 C1082.4 2677.4 1091.0 2678.3 1096.2 2678.5 C1101.4 2678.7 1110.1 2678.0 1115.8 2677.5 C1121.5 2677.0 1133.0 2674.9 1138.7 2674.8 C1144.4 2674.7 1153.4 2676.0 1158.2 2676.5 C1163.0 2677.0 1170.7 2678.2 1175.0 2678.5 C1179.3 2678.8 1182.0 2678.9 1190.7 2679.0 C1199.4 2679.1 1228.3 2679.7 1240.0 2679.6 C1251.7 2679.5 1268.1 2678.2 1278.8 2678.2 C1289.5 2678.2 1308.5 2679.4 1320.0 2679.4 C1331.5 2679.4 1351.3 2678.4 1365.0 2678.4 C1378.7 2678.4 1414.7 2679.1 1422.4 2679.2 L1422.4 2682.0 Z" fill="rgb(172,172,137)" fill-opacity="0.6"/>
<path d="M482.4 2668.1 C484.7 2665.1 495.4 2651.4 499.4 2645.3 C503.4 2639.2 509.1 2627.6 512.4 2622.4 C515.7 2617.2 520.3 2609.9 523.8 2606.1 C527.3 2602.3 535.1 2595.8 538.5 2593.7 C541.9 2591.6 546.3 2590.3 549.0 2590.5 C551.7 2590.7 556.5 2592.8 559.0 2595.0 C561.5 2597.2 565.4 2603.3 567.9 2607.0 C570.4 2610.7 574.7 2618.2 577.7 2622.4 C580.7 2626.6 587.2 2634.8 590.7 2638.7 C594.2 2642.6 600.5 2648.9 603.8 2651.8 C607.1 2654.7 611.3 2659.1 615.2 2660.5 C619.1 2661.9 628.5 2662.3 633.1 2662.0 C637.7 2661.7 645.5 2659.7 649.4 2658.3 C653.3 2656.9 659.0 2654.2 662.5 2651.8 C666.0 2649.4 672.5 2644.7 675.5 2640.4 C678.5 2636.1 682.7 2625.5 685.3 2619.2 C687.9 2612.9 692.7 2600.3 695.1 2593.1 C697.5 2585.9 700.8 2573.4 703.0 2565.0 C705.2 2556.6 708.5 2542.5 711.4 2530.0 C714.3 2517.5 721.4 2484.3 724.5 2471.2 C727.6 2458.1 731.7 2441.1 734.3 2432.0 C736.9 2422.9 741.7 2408.5 744.1 2402.7 C746.5 2396.9 750.2 2390.3 752.2 2388.5 C754.2 2386.7 757.0 2388.5 759.0 2389.5 C761.0 2390.5 765.0 2393.6 766.9 2396.2 C768.8 2398.8 771.2 2403.1 773.4 2409.2 C775.6 2415.3 780.1 2431.5 783.2 2441.9 C786.3 2452.3 792.8 2475.3 796.3 2487.0 C799.8 2498.7 806.0 2520.3 809.3 2530.0 C812.6 2539.7 818.1 2554.1 820.7 2560.0 C823.3 2565.9 826.7 2571.8 829.0 2574.5 C831.3 2577.2 835.6 2579.5 838.0 2580.0 C840.4 2580.5 844.0 2580.4 846.7 2578.5 C849.4 2576.6 854.4 2570.7 858.1 2565.8 C861.8 2560.9 870.9 2546.2 874.4 2541.4 C877.9 2536.6 881.4 2532.4 884.2 2530.0 C887.0 2527.6 893.0 2523.9 895.6 2523.4 C898.2 2522.9 902.0 2524.7 904.0 2526.0 C906.0 2527.3 907.7 2529.2 910.3 2533.2 C912.9 2537.2 919.8 2549.8 923.3 2556.0 C926.8 2562.2 933.3 2574.2 936.4 2580.0 C939.5 2585.8 943.6 2594.8 946.2 2599.6 C948.8 2604.4 953.0 2611.8 956.0 2615.9 C959.0 2620.0 965.1 2626.9 969.0 2630.6 C972.9 2634.3 980.5 2640.6 985.3 2643.6 C990.1 2646.6 998.8 2651.0 1004.9 2653.4 C1011.0 2655.8 1024.5 2659.4 1031.0 2661.6 C1037.5 2663.8 1047.7 2667.8 1053.8 2669.7 C1059.9 2671.6 1071.0 2675.0 1076.7 2676.2 C1082.4 2677.4 1091.0 2678.3 1096.2 2678.5 C1101.4 2678.7 1110.1 2678.0 1115.8 2677.5 C1121.5 2677.0 1133.0 2674.9 1138.7 2674.8 C1144.4 2674.7 1153.4 2676.0 1158.2 2676.5 C1163.0 2677.0 1170.7 2678.2 1175.0 2678.5 C1179.3 2678.8 1182.0 2678.9 1190.7 2679.0 C1199.4 2679.1 1228.3 2679.7 1240.0 2679.6 C1251.7 2679.5 1268.1 2678.2 1278.8 2678.2 C1289.5 2678.2 1308.5 2679.4 1320.0 2679.4 C1331.5 2679.4 1351.3 2678.4 1365.0 2678.4 C1378.7 2678.4 1414.7 2679.1 1422.4 2679.2" fill="none" stroke="#fff" stroke-opacity="0.85" stroke-width="2"/>
<path d="M508.5 2779.5 L508.5 2713.8 C509.2 2710.3 512.2 2695.5 514.0 2687.7 C515.8 2679.9 520.0 2663.3 522.2 2655.0 C524.4 2646.7 528.0 2633.2 530.4 2625.7 C532.8 2618.2 537.5 2603.1 540.1 2598.5 C542.7 2593.9 547.3 2591.8 549.9 2591.4 C552.5 2591.0 557.3 2593.1 559.7 2595.5 C562.1 2597.9 565.5 2604.8 567.9 2609.4 C570.3 2614.0 575.3 2624.2 577.7 2630.0 C580.1 2635.8 583.6 2645.7 585.8 2653.0 C588.0 2660.3 592.0 2677.2 594.0 2684.4 C596.0 2691.6 598.5 2701.6 600.5 2707.2 C602.5 2712.8 606.5 2722.1 608.7 2726.5 C610.9 2730.9 614.4 2737.5 616.8 2739.9 C619.2 2742.3 622.7 2743.9 626.6 2744.8 C630.5 2745.7 640.1 2746.6 646.2 2746.4 C652.3 2746.2 666.0 2744.8 672.3 2743.1 C678.6 2741.4 689.8 2737.6 693.5 2733.3 C697.2 2729.0 698.0 2717.9 700.0 2710.5 C702.0 2703.1 705.8 2688.6 708.2 2677.9 C710.6 2667.2 715.4 2642.5 718.0 2630.0 C720.6 2617.5 725.1 2596.6 727.7 2584.0 C730.3 2571.4 734.9 2545.8 737.5 2535.5 C740.1 2525.2 744.8 2512.6 747.3 2507.1 C749.8 2501.6 753.6 2496.6 756.0 2494.0 C758.4 2491.4 763.2 2487.5 765.3 2487.5 C767.4 2487.5 769.6 2490.5 772.0 2494.0 C774.4 2497.5 780.3 2505.8 783.1 2513.6 C785.9 2521.4 790.4 2543.0 793.0 2552.8 C795.6 2562.6 800.1 2579.8 802.7 2587.0 C805.3 2594.2 810.1 2602.4 812.5 2606.6 C814.9 2610.8 818.4 2617.5 820.6 2618.5 C822.8 2619.5 826.6 2615.6 829.0 2614.0 C831.4 2612.4 835.5 2610.9 838.5 2606.6 C841.5 2602.3 847.7 2589.3 851.6 2582.1 C855.5 2574.9 864.0 2558.2 867.9 2552.8 C871.8 2547.4 877.0 2543.6 880.9 2541.4 C884.8 2539.2 893.3 2536.5 897.2 2536.5 C901.1 2536.5 907.2 2538.8 910.3 2541.4 C913.4 2544.0 917.1 2550.6 920.1 2556.0 C923.1 2561.4 930.3 2575.8 933.1 2582.1 C935.9 2588.4 938.7 2596.6 941.0 2603.0 C943.3 2609.4 947.5 2622.7 950.0 2630.0 C952.5 2637.3 957.3 2650.3 960.0 2658.0 C962.7 2665.7 967.3 2680.3 970.0 2688.0 C972.7 2695.7 977.3 2709.3 980.0 2716.0 C982.7 2722.7 986.9 2733.4 990.0 2738.0 C993.1 2742.6 999.6 2749.1 1003.3 2750.5 C1007.0 2751.9 1013.4 2749.1 1018.0 2748.6 C1022.6 2748.1 1032.3 2746.9 1037.5 2747.0 C1042.7 2747.1 1051.9 2748.7 1057.1 2749.7 C1062.3 2750.7 1071.5 2753.5 1076.7 2754.6 C1081.9 2755.7 1091.4 2757.2 1096.2 2757.8 C1101.0 2758.4 1108.2 2758.7 1112.6 2758.8 C1117.0 2758.9 1124.6 2758.1 1128.9 2758.3 C1133.2 2758.5 1141.3 2759.6 1145.2 2760.5 C1149.1 2761.4 1154.9 2763.8 1158.2 2765.0 C1161.5 2766.2 1166.5 2768.4 1170.0 2769.5 C1173.5 2770.6 1178.4 2772.7 1184.2 2773.6 C1190.0 2774.5 1205.8 2776.0 1213.6 2776.5 C1221.4 2777.0 1236.1 2777.1 1243.0 2777.3 C1249.9 2777.5 1257.4 2777.8 1265.0 2777.8 C1272.6 2777.8 1292.2 2777.8 1300.0 2777.6 C1307.8 2777.4 1317.6 2777.1 1323.7 2776.5 C1329.8 2775.9 1340.1 2774.1 1345.7 2773.4 C1351.3 2772.7 1360.0 2771.3 1365.9 2771.4 C1371.8 2771.5 1383.8 2773.6 1389.8 2774.5 C1395.8 2775.4 1408.2 2778.0 1411.0 2778.5 L1411.0 2779.5 Z" fill="rgb(203,150,33)" fill-opacity="0.6"/>
<path d="M508.5 2713.8 C509.2 2710.3 512.2 2695.5 514.0 2687.7 C515.8 2679.9 520.0 2663.3 522.2 2655.0 C524.4 2646.7 528.0 2633.2 530.4 2625.7 C532.8 2618.2 537.5 2603.1 540.1 2598.5 C542.7 2593.9 547.3 2591.8 549.9 2591.4 C552.5 2591.0 557.3 2593.1 559.7 2595.5 C562.1 2597.9 565.5 2604.8 567.9 2609.4 C570.3 2614.0 575.3 2624.2 577.7 2630.0 C580.1 2635.8 583.6 2645.7 585.8 2653.0 C588.0 2660.3 592.0 2677.2 594.0 2684.4 C596.0 2691.6 598.5 2701.6 600.5 2707.2 C602.5 2712.8 606.5 2722.1 608.7 2726.5 C610.9 2730.9 614.4 2737.5 616.8 2739.9 C619.2 2742.3 622.7 2743.9 626.6 2744.8 C630.5 2745.7 640.1 2746.6 646.2 2746.4 C652.3 2746.2 666.0 2744.8 672.3 2743.1 C678.6 2741.4 689.8 2737.6 693.5 2733.3 C697.2 2729.0 698.0 2717.9 700.0 2710.5 C702.0 2703.1 705.8 2688.6 708.2 2677.9 C710.6 2667.2 715.4 2642.5 718.0 2630.0 C720.6 2617.5 725.1 2596.6 727.7 2584.0 C730.3 2571.4 734.9 2545.8 737.5 2535.5 C740.1 2525.2 744.8 2512.6 747.3 2507.1 C749.8 2501.6 753.6 2496.6 756.0 2494.0 C758.4 2491.4 763.2 2487.5 765.3 2487.5 C767.4 2487.5 769.6 2490.5 772.0 2494.0 C774.4 2497.5 780.3 2505.8 783.1 2513.6 C785.9 2521.4 790.4 2543.0 793.0 2552.8 C795.6 2562.6 800.1 2579.8 802.7 2587.0 C805.3 2594.2 810.1 2602.4 812.5 2606.6 C814.9 2610.8 818.4 2617.5 820.6 2618.5 C822.8 2619.5 826.6 2615.6 829.0 2614.0 C831.4 2612.4 835.5 2610.9 838.5 2606.6 C841.5 2602.3 847.7 2589.3 851.6 2582.1 C855.5 2574.9 864.0 2558.2 867.9 2552.8 C871.8 2547.4 877.0 2543.6 880.9 2541.4 C884.8 2539.2 893.3 2536.5 897.2 2536.5 C901.1 2536.5 907.2 2538.8 910.3 2541.4 C913.4 2544.0 917.1 2550.6 920.1 2556.0 C923.1 2561.4 930.3 2575.8 933.1 2582.1 C935.9 2588.4 938.7 2596.6 941.0 2603.0 C943.3 2609.4 947.5 2622.7 950.0 2630.0 C952.5 2637.3 957.3 2650.3 960.0 2658.0 C962.7 2665.7 967.3 2680.3 970.0 2688.0 C972.7 2695.7 977.3 2709.3 980.0 2716.0 C982.7 2722.7 986.9 2733.4 990.0 2738.0 C993.1 2742.6 999.6 2749.1 1003.3 2750.5 C1007.0 2751.9 1013.4 2749.1 1018.0 2748.6 C1022.6 2748.1 1032.3 2746.9 1037.5 2747.0 C1042.7 2747.1 1051.9 2748.7 1057.1 2749.7 C1062.3 2750.7 1071.5 2753.5 1076.7 2754.6 C1081.9 2755.7 1091.4 2757.2 1096.2 2757.8 C1101.0 2758.4 1108.2 2758.7 1112.6 2758.8 C1117.0 2758.9 1124.6 2758.1 1128.9 2758.3 C1133.2 2758.5 1141.3 2759.6 1145.2 2760.5 C1149.1 2761.4 1154.9 2763.8 1158.2 2765.0 C1161.5 2766.2 1166.5 2768.4 1170.0 2769.5 C1173.5 2770.6 1178.4 2772.7 1184.2 2773.6 C1190.0 2774.5 1205.8 2776.0 1213.6 2776.5 C1221.4 2777.0 1236.1 2777.1 1243.0 2777.3 C1249.9 2777.5 1257.4 2777.8 1265.0 2777.8 C1272.6 2777.8 1292.2 2777.8 1300.0 2777.6 C1307.8 2777.4 1317.6 2777.1 1323.7 2776.5 C1329.8 2775.9 1340.1 2774.1 1345.7 2773.4 C1351.3 2772.7 1360.0 2771.3 1365.9 2771.4 C1371.8 2771.5 1383.8 2773.6 1389.8 2774.5 C1395.8 2775.4 1408.2 2778.0 1411.0 2778.5" fill="none" stroke="#fff" stroke-opacity="0.85" stroke-width="2"/>
<path d="M739.2 2878.5 L739.2 2868.7 C741.6 2867.2 752.5 2859.9 757.1 2857.3 C761.7 2854.7 769.9 2850.7 773.4 2849.2 C776.9 2847.7 780.1 2846.6 783.2 2845.9 C786.3 2845.2 792.8 2845.3 796.3 2843.8 C799.8 2842.3 806.5 2837.9 809.3 2834.5 C812.1 2831.1 815.3 2823.9 817.5 2818.2 C819.7 2812.5 823.2 2799.9 825.6 2792.1 C828.0 2784.3 832.8 2769.0 835.4 2759.4 C838.0 2749.8 842.6 2730.9 845.2 2720.3 C847.8 2709.7 852.4 2690.0 855.0 2680.0 C857.6 2670.0 862.7 2652.5 864.8 2645.3 C866.9 2638.1 869.0 2630.9 871.1 2625.7 C873.2 2620.5 878.3 2610.5 880.9 2606.1 C883.5 2601.7 888.4 2595.6 890.7 2593.0 C893.0 2590.4 896.0 2587.7 898.0 2586.5 C900.0 2585.3 903.5 2584.1 905.4 2584.0 C907.3 2583.9 910.5 2585.0 912.0 2585.5 C913.5 2586.0 914.9 2586.6 916.8 2588.0 C918.7 2589.4 924.0 2593.2 926.6 2596.0 C929.2 2598.8 933.8 2604.6 936.4 2609.0 C939.0 2613.4 943.4 2622.9 946.0 2629.0 C948.6 2635.1 953.4 2647.2 956.0 2655.0 C958.6 2662.8 962.8 2677.3 965.8 2687.7 C968.8 2698.1 976.2 2723.8 978.8 2733.0 C981.4 2742.2 983.2 2750.5 985.0 2757.0 C986.8 2763.5 989.3 2773.9 992.0 2782.0 C994.7 2790.1 1001.1 2809.7 1005.0 2818.0 C1008.9 2826.3 1017.7 2839.2 1021.0 2844.0 C1024.3 2848.8 1026.8 2851.1 1030.0 2854.2 C1033.2 2857.3 1040.3 2864.4 1044.7 2867.0 C1049.1 2869.6 1058.3 2872.0 1063.0 2873.5 C1067.7 2875.0 1077.4 2877.4 1079.6 2878.0 L1079.6 2878.5 Z" fill="rgb(157,30,50)" fill-opacity="0.6"/>
<path d="M739.2 2868.7 C741.6 2867.2 752.5 2859.9 757.1 2857.3 C761.7 2854.7 769.9 2850.7 773.4 2849.2 C776.9 2847.7 780.1 2846.6 783.2 2845.9 C786.3 2845.2 792.8 2845.3 796.3 2843.8 C799.8 2842.3 806.5 2837.9 809.3 2834.5 C812.1 2831.1 815.3 2823.9 817.5 2818.2 C819.7 2812.5 823.2 2799.9 825.6 2792.1 C828.0 2784.3 832.8 2769.0 835.4 2759.4 C838.0 2749.8 842.6 2730.9 845.2 2720.3 C847.8 2709.7 852.4 2690.0 855.0 2680.0 C857.6 2670.0 862.7 2652.5 864.8 2645.3 C866.9 2638.1 869.0 2630.9 871.1 2625.7 C873.2 2620.5 878.3 2610.5 880.9 2606.1 C883.5 2601.7 888.4 2595.6 890.7 2593.0 C893.0 2590.4 896.0 2587.7 898.0 2586.5 C900.0 2585.3 903.5 2584.1 905.4 2584.0 C907.3 2583.9 910.5 2585.0 912.0 2585.5 C913.5 2586.0 914.9 2586.6 916.8 2588.0 C918.7 2589.4 924.0 2593.2 926.6 2596.0 C929.2 2598.8 933.8 2604.6 936.4 2609.0 C939.0 2613.4 943.4 2622.9 946.0 2629.0 C948.6 2635.1 953.4 2647.2 956.0 2655.0 C958.6 2662.8 962.8 2677.3 965.8 2687.7 C968.8 2698.1 976.2 2723.8 978.8 2733.0 C981.4 2742.2 983.2 2750.5 985.0 2757.0 C986.8 2763.5 989.3 2773.9 992.0 2782.0 C994.7 2790.1 1001.1 2809.7 1005.0 2818.0 C1008.9 2826.3 1017.7 2839.2 1021.0 2844.0 C1024.3 2848.8 1026.8 2851.1 1030.0 2854.2 C1033.2 2857.3 1040.3 2864.4 1044.7 2867.0 C1049.1 2869.6 1058.3 2872.0 1063.0 2873.5 C1067.7 2875.0 1077.4 2877.4 1079.6 2878.0" fill="none" stroke="#fff" stroke-opacity="0.85" stroke-width="2"/>
<path d="M1318.2 2878.5 L1318.2 2878.3 C1320.4 2877.4 1330.1 2874.3 1334.7 2871.8 C1339.3 2869.3 1348.6 2862.0 1353.0 2859.7 C1357.4 2857.4 1363.8 2855.2 1367.7 2854.2 C1371.6 2853.2 1378.5 2852.3 1382.4 2852.3 C1386.3 2852.3 1393.4 2853.2 1397.1 2854.2 C1400.8 2855.2 1407.2 2858.2 1410.0 2859.7 C1412.8 2861.2 1417.3 2864.5 1418.4 2865.2 L1418.4 2878.5 Z" fill="rgb(157,30,50)" fill-opacity="0.6"/>
<path d="M1318.2 2878.3 C1320.4 2877.4 1330.1 2874.3 1334.7 2871.8 C1339.3 2869.3 1348.6 2862.0 1353.0 2859.7 C1357.4 2857.4 1363.8 2855.2 1367.7 2854.2 C1371.6 2853.2 1378.5 2852.3 1382.4 2852.3 C1386.3 2852.3 1393.4 2853.2 1397.1 2854.2 C1400.8 2855.2 1407.2 2858.2 1410.0 2859.7 C1412.8 2861.2 1417.3 2864.5 1418.4 2865.2" fill="none" stroke="#fff" stroke-opacity="0.85" stroke-width="2"/>
<path d="M482.4 2976.5 L482.4 2975.4 C485.1 2974.7 497.3 2971.4 502.6 2969.9 C507.9 2968.4 517.2 2965.6 522.2 2964.3 C527.2 2963.0 535.8 2960.6 540.1 2960.4 C544.4 2960.2 549.4 2962.4 554.8 2963.0 C560.2 2963.6 573.5 2964.8 580.9 2964.8 C588.3 2964.8 602.5 2963.8 610.3 2963.0 C618.1 2962.2 632.3 2959.6 639.7 2958.5 C647.1 2957.4 658.8 2956.2 665.8 2954.8 C672.8 2953.4 685.8 2950.1 691.9 2948.2 C698.0 2946.3 707.1 2942.6 711.4 2940.5 C715.7 2938.4 721.4 2933.8 724.5 2932.4 C727.6 2931.0 731.3 2929.9 734.3 2929.8 C737.3 2929.7 743.8 2930.8 747.3 2931.7 C750.8 2932.6 756.5 2935.9 760.4 2936.8 C764.3 2937.7 772.4 2938.6 776.7 2938.6 C781.0 2938.6 789.4 2938.1 793.0 2937.0 C796.6 2935.9 801.4 2933.3 804.0 2930.5 C806.6 2927.7 810.0 2921.0 812.4 2916.0 C814.8 2911.0 819.8 2899.7 822.2 2893.2 C824.6 2886.7 828.2 2875.8 830.4 2867.1 C832.6 2858.4 836.1 2838.4 838.5 2828.0 C840.9 2817.6 845.7 2799.2 848.3 2788.8 C850.9 2778.4 855.5 2759.3 858.1 2749.7 C860.7 2740.1 865.5 2723.5 867.9 2717.0 C870.3 2710.5 873.8 2704.2 876.0 2700.7 C878.2 2697.2 881.8 2693.3 884.2 2690.9 C886.6 2688.5 891.4 2683.5 894.0 2682.8 C896.6 2682.1 901.2 2684.5 903.8 2686.0 C906.4 2687.5 911.0 2690.1 913.6 2694.2 C916.2 2698.3 920.7 2709.6 923.3 2717.0 C925.9 2724.4 930.5 2740.1 933.1 2749.7 C935.7 2759.3 940.3 2779.2 942.9 2788.8 C945.5 2798.4 950.1 2813.1 952.7 2821.4 C955.3 2829.7 959.9 2843.0 962.5 2850.8 C965.1 2858.6 969.7 2872.8 972.3 2880.2 C974.9 2887.6 979.5 2899.8 982.1 2906.3 C984.7 2912.8 989.3 2923.9 991.9 2929.1 C994.5 2934.3 998.6 2941.3 1001.6 2945.4 C1004.6 2949.5 1010.8 2956.9 1014.7 2960.1 C1018.6 2963.3 1026.2 2967.8 1031.0 2969.6 C1035.8 2971.4 1043.4 2972.7 1050.6 2973.6 C1057.8 2974.5 1080.4 2975.7 1085.0 2976.0 L1085.0 2976.5 Z" fill="rgb(210,122,163)" fill-opacity="0.6"/>
<path d="M482.4 2975.4 C485.1 2974.7 497.3 2971.4 502.6 2969.9 C507.9 2968.4 517.2 2965.6 522.2 2964.3 C527.2 2963.0 535.8 2960.6 540.1 2960.4 C544.4 2960.2 549.4 2962.4 554.8 2963.0 C560.2 2963.6 573.5 2964.8 580.9 2964.8 C588.3 2964.8 602.5 2963.8 610.3 2963.0 C618.1 2962.2 632.3 2959.6 639.7 2958.5 C647.1 2957.4 658.8 2956.2 665.8 2954.8 C672.8 2953.4 685.8 2950.1 691.9 2948.2 C698.0 2946.3 707.1 2942.6 711.4 2940.5 C715.7 2938.4 721.4 2933.8 724.5 2932.4 C727.6 2931.0 731.3 2929.9 734.3 2929.8 C737.3 2929.7 743.8 2930.8 747.3 2931.7 C750.8 2932.6 756.5 2935.9 760.4 2936.8 C764.3 2937.7 772.4 2938.6 776.7 2938.6 C781.0 2938.6 789.4 2938.1 793.0 2937.0 C796.6 2935.9 801.4 2933.3 804.0 2930.5 C806.6 2927.7 810.0 2921.0 812.4 2916.0 C814.8 2911.0 819.8 2899.7 822.2 2893.2 C824.6 2886.7 828.2 2875.8 830.4 2867.1 C832.6 2858.4 836.1 2838.4 838.5 2828.0 C840.9 2817.6 845.7 2799.2 848.3 2788.8 C850.9 2778.4 855.5 2759.3 858.1 2749.7 C860.7 2740.1 865.5 2723.5 867.9 2717.0 C870.3 2710.5 873.8 2704.2 876.0 2700.7 C878.2 2697.2 881.8 2693.3 884.2 2690.9 C886.6 2688.5 891.4 2683.5 894.0 2682.8 C896.6 2682.1 901.2 2684.5 903.8 2686.0 C906.4 2687.5 911.0 2690.1 913.6 2694.2 C916.2 2698.3 920.7 2709.6 923.3 2717.0 C925.9 2724.4 930.5 2740.1 933.1 2749.7 C935.7 2759.3 940.3 2779.2 942.9 2788.8 C945.5 2798.4 950.1 2813.1 952.7 2821.4 C955.3 2829.7 959.9 2843.0 962.5 2850.8 C965.1 2858.6 969.7 2872.8 972.3 2880.2 C974.9 2887.6 979.5 2899.8 982.1 2906.3 C984.7 2912.8 989.3 2923.9 991.9 2929.1 C994.5 2934.3 998.6 2941.3 1001.6 2945.4 C1004.6 2949.5 1010.8 2956.9 1014.7 2960.1 C1018.6 2963.3 1026.2 2967.8 1031.0 2969.6 C1035.8 2971.4 1043.4 2972.7 1050.6 2973.6 C1057.8 2974.5 1080.4 2975.7 1085.0 2976.0" fill="none" stroke="#fff" stroke-opacity="0.85" stroke-width="2"/>
<path d="M1114.4 2976.5 L1114.4 2976.2 C1119.3 2975.7 1142.8 2973.1 1151.1 2972.6 C1159.4 2972.1 1169.0 2972.1 1176.8 2972.6 C1184.6 2973.1 1205.5 2975.7 1209.9 2976.2 L1209.9 2976.5 Z" fill="rgb(210,122,163)" fill-opacity="0.6"/>
<path d="M1114.4 2976.2 C1119.3 2975.7 1142.8 2973.1 1151.1 2972.6 C1159.4 2972.1 1169.0 2972.1 1176.8 2972.6 C1184.6 2973.1 1205.5 2975.7 1209.9 2976.2" fill="none" stroke="#fff" stroke-opacity="0.85" stroke-width="2"/>
<path d="M1250.3 2976.5 L1250.3 2976.2 C1255.2 2975.7 1278.7 2973.5 1287.0 2972.4 C1295.3 2971.3 1306.3 2968.2 1312.7 2968.0 C1319.1 2967.8 1328.6 2970.3 1334.7 2971.0 C1340.8 2971.7 1355.4 2973.2 1358.6 2973.5 L1358.6 2976.5 Z" fill="rgb(210,122,163)" fill-opacity="0.6"/>
<path d="M1250.3 2976.2 C1255.2 2975.7 1278.7 2973.5 1287.0 2972.4 C1295.3 2971.3 1306.3 2968.2 1312.7 2968.0 C1319.1 2967.8 1328.6 2970.3 1334.7 2971.0 C1340.8 2971.7 1355.4 2973.2 1358.6 2973.5" fill="none" stroke="#fff" stroke-opacity="0.85" stroke-width="2"/>
<text transform="translate(481.5 2112.8) rotate(-45)" font-size="54.5" fill="#111">310 Ma</text>
<text transform="translate(667.0 2112.8) rotate(-45)" font-size="54.5" fill="#111">480 Ma</text>
<text transform="translate(836.3 2112.8) rotate(-45)" font-size="54.5" fill="#111">600 Ma</text>
<line x1="320" y1="3002.5" x2="1467" y2="3002.5" stroke="#555" stroke-width="3"/>
<line x1="418.7" y1="3002.5" x2="418.7" y2="3014.5" stroke="#5a5a5a" stroke-width="2.8"/>
<text x="425.7" y="3054" font-size="48.3" text-anchor="middle" fill="#222">200</text>
<line x1="664.0" y1="3002.5" x2="664.0" y2="3014.5" stroke="#5a5a5a" stroke-width="2.8"/>
<text x="671.0" y="3054" font-size="48.3" text-anchor="middle" fill="#222">400</text>
<line x1="909.3" y1="3002.5" x2="909.3" y2="3014.5" stroke="#5a5a5a" stroke-width="2.8"/>
<text x="916.3" y="3054" font-size="48.3" text-anchor="middle" fill="#222">600</text>
<line x1="1154.7" y1="3002.5" x2="1154.7" y2="3014.5" stroke="#5a5a5a" stroke-width="2.8"/>
<text x="1161.7" y="3054" font-size="48.3" text-anchor="middle" fill="#222">800</text>
<line x1="1400.0" y1="3002.5" x2="1400.0" y2="3014.5" stroke="#5a5a5a" stroke-width="2.8"/>
<text x="1407.0" y="3054" font-size="48.3" text-anchor="middle" fill="#222">1000</text>
<text x="789" y="3131" font-size="55" fill="#111">Age (Ma)</text>
<text x="474.5" y="2471" font-size="48.3" text-anchor="end" fill="#2a2a2a" class="gy">Pereruela</text>
<text x="474.5" y="2571.5" font-size="48.3" text-anchor="end" fill="#2a2a2a" class="gy">Martinamor</text>
<text x="474.5" y="2673" font-size="48.3" text-anchor="end" fill="#2a2a2a" class="gy">Álamo</text>
<text x="474.5" y="2766.5" font-size="48.3" text-anchor="end" fill="#2a2a2a" class="gy">Castellanos</text>
<text x="474.5" y="2866.5" font-size="48.3" text-anchor="end" fill="#2a2a2a" class="gy">Mirueña</text>
<text x="480.5" y="2964.5" font-size="48.3" text-anchor="end" fill="#2a2a2a" class="gy">Yemas</text>
<text x="125" y="2421" font-size="62" text-anchor="middle" fill="#111">NWW</text>
<text x="112" y="2992" font-size="62" text-anchor="middle" fill="#111">SEE</text>
<line x1="125.6" y1="2451" x2="125.6" y2="2867" stroke="#111" stroke-width="4.8"/>
<polygon points="86,2867.5 165.5,2867.5 125.6,2893" fill="#fff" stroke="#111" stroke-width="4.6" stroke-linejoin="miter"/>
</g>
</svg>
</body></html>
